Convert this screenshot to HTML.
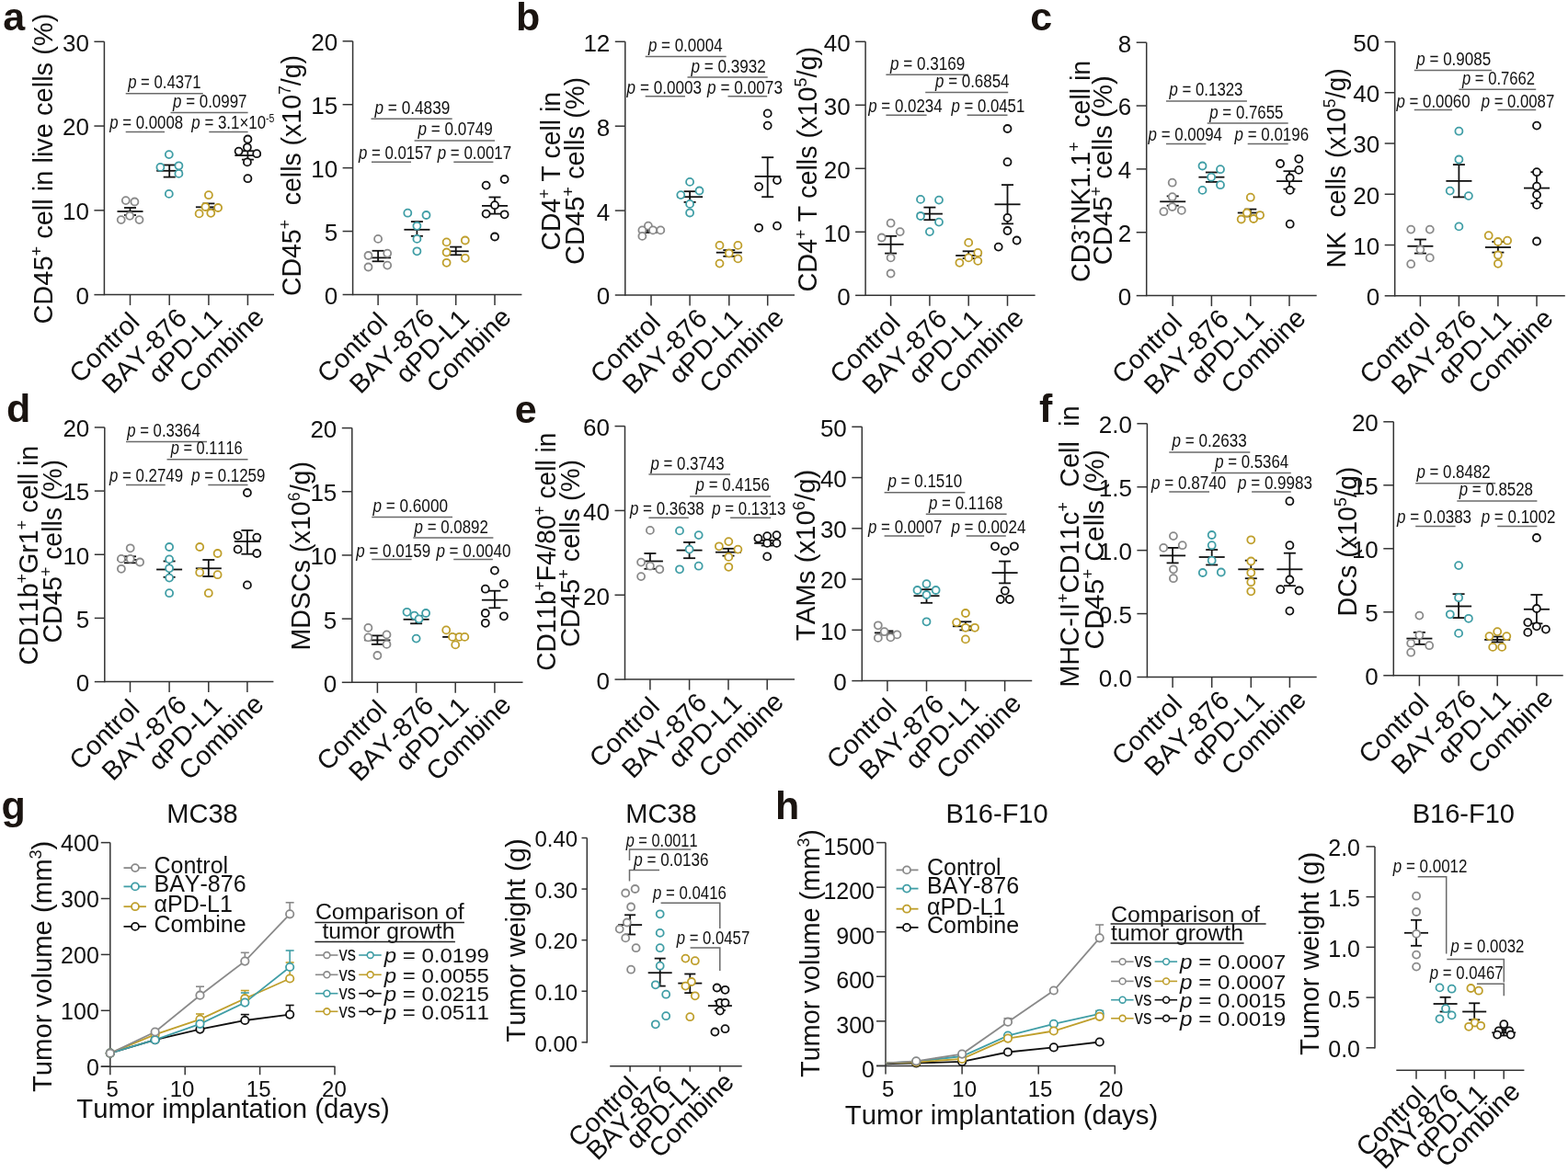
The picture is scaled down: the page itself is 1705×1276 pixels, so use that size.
<!DOCTYPE html>
<html><head><meta charset="utf-8"><title>Figure</title><style>html,body{margin:0;padding:0;background:#fff;overflow:hidden;width:1705px;height:1276px;}svg{display:block;font-kerning:none;}</style></head><body>
<svg width="1705" height="1276" viewBox="0 0 1705 1276" font-family="'Liberation Sans', Arial, sans-serif" fill="#111">
<rect width="1705" height="1276" fill="#fff"/>
<text x="3.3" y="33.2" font-size="43" font-weight="bold" fill="#1a1410">a</text>
<text x="561.0" y="33.1" font-size="43" font-weight="bold" fill="#1a1410">b</text>
<text x="1120.2" y="33.2" font-size="43" font-weight="bold" fill="#1a1410">c</text>
<text x="7.0" y="459.2" font-size="43" font-weight="bold" fill="#1a1410">d</text>
<text x="559.8" y="459.6" font-size="43" font-weight="bold" fill="#1a1410">e</text>
<text x="1130.1" y="458.7" font-size="43" font-weight="bold" fill="#1a1410">f</text>
<text x="1.5" y="890.9" font-size="43" font-weight="bold" fill="#1a1410">g</text>
<text x="843.0" y="890.8" font-size="43" font-weight="bold" fill="#1a1410">h</text>
<line x1="113.4" y1="45.3" x2="113.4" y2="321.35" stroke="#333" stroke-width="1.5"/>
<line x1="102.4" y1="45.3" x2="113.4" y2="45.3" stroke="#333" stroke-width="1.5"/>
<text x="96.9" y="55.7" font-size="26" text-anchor="end">30</text>
<line x1="102.4" y1="137.07" x2="113.4" y2="137.07" stroke="#333" stroke-width="1.5"/>
<text x="96.9" y="147.47" font-size="26" text-anchor="end">20</text>
<line x1="102.4" y1="228.83" x2="113.4" y2="228.83" stroke="#333" stroke-width="1.5"/>
<text x="96.9" y="239.23" font-size="26" text-anchor="end">10</text>
<line x1="102.4" y1="320.6" x2="113.4" y2="320.6" stroke="#333" stroke-width="1.5"/>
<text x="96.9" y="331" font-size="26" text-anchor="end">0</text>
<line x1="113.4" y1="320.6" x2="298" y2="320.6" stroke="#333" stroke-width="1.5"/>
<line x1="141.5" y1="320.6" x2="141.5" y2="332.1" stroke="#333" stroke-width="1.5"/>
<line x1="184.2" y1="320.6" x2="184.2" y2="332.1" stroke="#333" stroke-width="1.5"/>
<line x1="226.9" y1="320.6" x2="226.9" y2="332.1" stroke="#333" stroke-width="1.5"/>
<line x1="269.4" y1="320.6" x2="269.4" y2="332.1" stroke="#333" stroke-width="1.5"/>
<text x="120.3" y="385" font-size="29" text-anchor="middle" transform="rotate(-45 120.3 385)">Control</text>
<text x="163.8" y="388.7" font-size="29" text-anchor="middle" transform="rotate(-45 163.8 388.7)">BAY-876</text>
<text x="208.1" y="383.6" font-size="29" text-anchor="middle" transform="rotate(-45 208.1 383.6)">αPD-L1</text>
<text x="247.9" y="387.9" font-size="29" text-anchor="middle" transform="rotate(-45 247.9 387.9)">Combine</text>
<text x="56.7" y="352.6" font-size="29" textLength="337.9" lengthAdjust="spacingAndGlyphs" transform="rotate(-90 56.7 352.6)" xml:space="preserve">CD45<tspan dy="-11.0" font-size="18.0">+</tspan><tspan dy="11.0"> cell in live cells (%)</tspan></text>
<line x1="141.5" y1="226" x2="141.5" y2="234" stroke="#111111" stroke-width="1.8"/>
<line x1="135" y1="226" x2="148" y2="226" stroke="#111111" stroke-width="1.8"/>
<line x1="135" y1="234" x2="148" y2="234" stroke="#111111" stroke-width="1.8"/>
<line x1="127.5" y1="230" x2="155.5" y2="230" stroke="#111111" stroke-width="1.8"/>
<line x1="184.2" y1="179.5" x2="184.2" y2="192.6" stroke="#111111" stroke-width="1.8"/>
<line x1="177.7" y1="179.5" x2="190.7" y2="179.5" stroke="#111111" stroke-width="1.8"/>
<line x1="177.7" y1="192.6" x2="190.7" y2="192.6" stroke="#111111" stroke-width="1.8"/>
<line x1="170.2" y1="185.8" x2="198.2" y2="185.8" stroke="#111111" stroke-width="1.8"/>
<line x1="226.9" y1="221.4" x2="226.9" y2="227.5" stroke="#111111" stroke-width="1.8"/>
<line x1="220.4" y1="221.4" x2="233.4" y2="221.4" stroke="#111111" stroke-width="1.8"/>
<line x1="220.4" y1="227.5" x2="233.4" y2="227.5" stroke="#111111" stroke-width="1.8"/>
<line x1="212.9" y1="225.3" x2="240.9" y2="225.3" stroke="#111111" stroke-width="1.8"/>
<line x1="269.4" y1="164.2" x2="269.4" y2="173.6" stroke="#111111" stroke-width="1.8"/>
<line x1="262.9" y1="164.2" x2="275.9" y2="164.2" stroke="#111111" stroke-width="1.8"/>
<line x1="262.9" y1="173.6" x2="275.9" y2="173.6" stroke="#111111" stroke-width="1.8"/>
<line x1="255.4" y1="169.1" x2="283.4" y2="169.1" stroke="#111111" stroke-width="1.8"/>
<circle cx="136.8" cy="218.1" r="4.0" fill="#fff" stroke="#8a8a8a" stroke-width="1.8"/>
<circle cx="146.4" cy="219.5" r="4.0" fill="#fff" stroke="#8a8a8a" stroke-width="1.8"/>
<circle cx="141.1" cy="234.8" r="4.0" fill="#fff" stroke="#8a8a8a" stroke-width="1.8"/>
<circle cx="131.7" cy="239.1" r="4.0" fill="#fff" stroke="#8a8a8a" stroke-width="1.8"/>
<circle cx="151.5" cy="239.1" r="4.0" fill="#fff" stroke="#8a8a8a" stroke-width="1.8"/>
<circle cx="183.8" cy="168.1" r="4.0" fill="#fff" stroke="#409ea6" stroke-width="1.8"/>
<circle cx="174.4" cy="181.9" r="4.0" fill="#fff" stroke="#409ea6" stroke-width="1.8"/>
<circle cx="194.4" cy="180.3" r="4.0" fill="#fff" stroke="#409ea6" stroke-width="1.8"/>
<circle cx="194.4" cy="188.9" r="4.0" fill="#fff" stroke="#409ea6" stroke-width="1.8"/>
<circle cx="183.8" cy="210.9" r="4.0" fill="#fff" stroke="#409ea6" stroke-width="1.8"/>
<circle cx="226.9" cy="212.2" r="4.0" fill="#fff" stroke="#bf9f2c" stroke-width="1.8"/>
<circle cx="223.4" cy="225" r="4.0" fill="#fff" stroke="#bf9f2c" stroke-width="1.8"/>
<circle cx="237.1" cy="226" r="4.0" fill="#fff" stroke="#bf9f2c" stroke-width="1.8"/>
<circle cx="216.6" cy="232.4" r="4.0" fill="#fff" stroke="#bf9f2c" stroke-width="1.8"/>
<circle cx="229.3" cy="231.8" r="4.0" fill="#fff" stroke="#bf9f2c" stroke-width="1.8"/>
<circle cx="269.4" cy="151.5" r="4.0" fill="#fff" stroke="#111111" stroke-width="1.8"/>
<circle cx="259.6" cy="164.6" r="4.0" fill="#fff" stroke="#111111" stroke-width="1.8"/>
<circle cx="268.9" cy="160.3" r="4.0" fill="#fff" stroke="#111111" stroke-width="1.8"/>
<circle cx="279.2" cy="167.2" r="4.0" fill="#fff" stroke="#111111" stroke-width="1.8"/>
<circle cx="268.9" cy="176.4" r="4.0" fill="#fff" stroke="#111111" stroke-width="1.8"/>
<circle cx="269.4" cy="194.2" r="4.0" fill="#fff" stroke="#111111" stroke-width="1.8"/>
<line x1="136.7" y1="101.8" x2="220.8" y2="101.8" stroke="#6a6a6a" stroke-width="1.5"/>
<text x="139.2" y="96.3" font-size="19.5" textLength="79.3" lengthAdjust="spacingAndGlyphs"><tspan font-style="italic">p</tspan> = 0.4371</text>
<line x1="185.5" y1="122.4" x2="269.6" y2="122.4" stroke="#6a6a6a" stroke-width="1.5"/>
<text x="188.1" y="116.9" font-size="19.5" textLength="80.4" lengthAdjust="spacingAndGlyphs"><tspan font-style="italic">p</tspan> = 0.0997</text>
<line x1="136.7" y1="143.4" x2="179" y2="143.4" stroke="#6a6a6a" stroke-width="1.5"/>
<text x="119.3" y="140.3" font-size="19.5" textLength="79.8" lengthAdjust="spacingAndGlyphs"><tspan font-style="italic">p</tspan> = 0.0008</text>
<line x1="227.3" y1="143.4" x2="269.6" y2="143.4" stroke="#6a6a6a" stroke-width="1.5"/>
<text x="208.3" y="140.3" font-size="19.5" textLength="90.1" lengthAdjust="spacingAndGlyphs"><tspan font-style="italic">p</tspan> = 3.1×10<tspan dy="-7.4" font-size="12.1">-5</tspan><tspan dy="7.4"></tspan></text>
<line x1="383.6" y1="44.8" x2="383.6" y2="321.25" stroke="#333" stroke-width="1.5"/>
<line x1="372.6" y1="44.8" x2="383.6" y2="44.8" stroke="#333" stroke-width="1.5"/>
<text x="367.1" y="55.2" font-size="26" text-anchor="end">20</text>
<line x1="372.6" y1="113.72" x2="383.6" y2="113.72" stroke="#333" stroke-width="1.5"/>
<text x="367.1" y="124.12" font-size="26" text-anchor="end">15</text>
<line x1="372.6" y1="182.65" x2="383.6" y2="182.65" stroke="#333" stroke-width="1.5"/>
<text x="367.1" y="193.05" font-size="26" text-anchor="end">10</text>
<line x1="372.6" y1="251.57" x2="383.6" y2="251.57" stroke="#333" stroke-width="1.5"/>
<text x="367.1" y="261.97" font-size="26" text-anchor="end">5</text>
<line x1="372.6" y1="320.5" x2="383.6" y2="320.5" stroke="#333" stroke-width="1.5"/>
<text x="367.1" y="330.9" font-size="26" text-anchor="end">0</text>
<line x1="383.6" y1="320.5" x2="567.4" y2="320.5" stroke="#333" stroke-width="1.5"/>
<line x1="411.1" y1="320.5" x2="411.1" y2="332" stroke="#333" stroke-width="1.5"/>
<line x1="453.4" y1="320.5" x2="453.4" y2="332" stroke="#333" stroke-width="1.5"/>
<line x1="495.7" y1="320.5" x2="495.7" y2="332" stroke="#333" stroke-width="1.5"/>
<line x1="538" y1="320.5" x2="538" y2="332" stroke="#333" stroke-width="1.5"/>
<text x="389.9" y="384.9" font-size="29" text-anchor="middle" transform="rotate(-45 389.9 384.9)">Control</text>
<text x="433" y="388.6" font-size="29" text-anchor="middle" transform="rotate(-45 433 388.6)">BAY-876</text>
<text x="476.9" y="383.5" font-size="29" text-anchor="middle" transform="rotate(-45 476.9 383.5)">αPD-L1</text>
<text x="516.5" y="387.8" font-size="29" text-anchor="middle" transform="rotate(-45 516.5 387.8)">Combine</text>
<text x="327.1" y="322.1" font-size="29" textLength="262.1" lengthAdjust="spacingAndGlyphs" transform="rotate(-90 327.1 322.1)" xml:space="preserve">CD45<tspan dy="-11.0" font-size="18.0">+</tspan><tspan dy="11.0">  cells (x10<tspan dy="-11.0" font-size="18.0">7</tspan><tspan dy="11.0">/g)</tspan></tspan></text>
<line x1="411.1" y1="272.8" x2="411.1" y2="284.3" stroke="#111111" stroke-width="1.8"/>
<line x1="404.6" y1="272.8" x2="417.6" y2="272.8" stroke="#111111" stroke-width="1.8"/>
<line x1="404.6" y1="284.3" x2="417.6" y2="284.3" stroke="#111111" stroke-width="1.8"/>
<line x1="397.1" y1="280.4" x2="425.1" y2="280.4" stroke="#111111" stroke-width="1.8"/>
<line x1="453.4" y1="241.1" x2="453.4" y2="256.8" stroke="#111111" stroke-width="1.8"/>
<line x1="446.9" y1="241.1" x2="459.9" y2="241.1" stroke="#111111" stroke-width="1.8"/>
<line x1="446.9" y1="256.8" x2="459.9" y2="256.8" stroke="#111111" stroke-width="1.8"/>
<line x1="439.4" y1="249.8" x2="467.4" y2="249.8" stroke="#111111" stroke-width="1.8"/>
<line x1="495.7" y1="268.6" x2="495.7" y2="277.3" stroke="#111111" stroke-width="1.8"/>
<line x1="489.2" y1="268.6" x2="502.2" y2="268.6" stroke="#111111" stroke-width="1.8"/>
<line x1="489.2" y1="277.3" x2="502.2" y2="277.3" stroke="#111111" stroke-width="1.8"/>
<line x1="481.7" y1="273.3" x2="509.7" y2="273.3" stroke="#111111" stroke-width="1.8"/>
<line x1="538" y1="214.5" x2="538" y2="232.6" stroke="#111111" stroke-width="1.8"/>
<line x1="531.5" y1="214.5" x2="544.5" y2="214.5" stroke="#111111" stroke-width="1.8"/>
<line x1="531.5" y1="232.6" x2="544.5" y2="232.6" stroke="#111111" stroke-width="1.8"/>
<line x1="524" y1="223.9" x2="552" y2="223.9" stroke="#111111" stroke-width="1.8"/>
<circle cx="411.1" cy="259.9" r="4.0" fill="#fff" stroke="#8a8a8a" stroke-width="1.8"/>
<circle cx="400.5" cy="278" r="4.0" fill="#fff" stroke="#8a8a8a" stroke-width="1.8"/>
<circle cx="421.2" cy="275.6" r="4.0" fill="#fff" stroke="#8a8a8a" stroke-width="1.8"/>
<circle cx="400.5" cy="290.5" r="4.0" fill="#fff" stroke="#8a8a8a" stroke-width="1.8"/>
<circle cx="421.2" cy="288.6" r="4.0" fill="#fff" stroke="#8a8a8a" stroke-width="1.8"/>
<circle cx="443.3" cy="231.7" r="4.0" fill="#fff" stroke="#409ea6" stroke-width="1.8"/>
<circle cx="463.5" cy="234" r="4.0" fill="#fff" stroke="#409ea6" stroke-width="1.8"/>
<circle cx="453.4" cy="245.8" r="4.0" fill="#fff" stroke="#409ea6" stroke-width="1.8"/>
<circle cx="453.4" cy="259.9" r="4.0" fill="#fff" stroke="#409ea6" stroke-width="1.8"/>
<circle cx="453.4" cy="273.3" r="4.0" fill="#fff" stroke="#409ea6" stroke-width="1.8"/>
<circle cx="485.6" cy="263.4" r="4.0" fill="#fff" stroke="#bf9f2c" stroke-width="1.8"/>
<circle cx="505.8" cy="261.5" r="4.0" fill="#fff" stroke="#bf9f2c" stroke-width="1.8"/>
<circle cx="485.6" cy="274.5" r="4.0" fill="#fff" stroke="#bf9f2c" stroke-width="1.8"/>
<circle cx="505.8" cy="280.8" r="4.0" fill="#fff" stroke="#bf9f2c" stroke-width="1.8"/>
<circle cx="485.6" cy="285.8" r="4.0" fill="#fff" stroke="#bf9f2c" stroke-width="1.8"/>
<circle cx="528.6" cy="201.6" r="4.0" fill="#fff" stroke="#111111" stroke-width="1.8"/>
<circle cx="548.6" cy="195" r="4.0" fill="#fff" stroke="#111111" stroke-width="1.8"/>
<circle cx="538" cy="223.2" r="4.0" fill="#fff" stroke="#111111" stroke-width="1.8"/>
<circle cx="528.6" cy="232.6" r="4.0" fill="#fff" stroke="#111111" stroke-width="1.8"/>
<circle cx="548.6" cy="233.3" r="4.0" fill="#fff" stroke="#111111" stroke-width="1.8"/>
<circle cx="538" cy="257.5" r="4.0" fill="#fff" stroke="#111111" stroke-width="1.8"/>
<line x1="403.5" y1="129.2" x2="491.7" y2="129.2" stroke="#6a6a6a" stroke-width="1.5"/>
<text x="407.5" y="123.7" font-size="19.5" textLength="81.8" lengthAdjust="spacingAndGlyphs"><tspan font-style="italic">p</tspan> = 0.4839</text>
<line x1="450.6" y1="152.9" x2="538" y2="152.9" stroke="#6a6a6a" stroke-width="1.5"/>
<text x="454.5" y="147.4" font-size="19.5" textLength="81.2" lengthAdjust="spacingAndGlyphs"><tspan font-style="italic">p</tspan> = 0.0749</text>
<line x1="404" y1="176.2" x2="447" y2="176.2" stroke="#6a6a6a" stroke-width="1.5"/>
<text x="389.9" y="173.1" font-size="19.5" textLength="79.9" lengthAdjust="spacingAndGlyphs"><tspan font-style="italic">p</tspan> = 0.0157</text>
<line x1="493.3" y1="176.2" x2="536.4" y2="176.2" stroke="#6a6a6a" stroke-width="1.5"/>
<text x="475.7" y="173.1" font-size="19.5" textLength="80.4" lengthAdjust="spacingAndGlyphs"><tspan font-style="italic">p</tspan> = 0.0017</text>
<line x1="679.8" y1="45.3" x2="679.8" y2="321.75" stroke="#333" stroke-width="1.5"/>
<line x1="668.8" y1="45.3" x2="679.8" y2="45.3" stroke="#333" stroke-width="1.5"/>
<text x="663.3" y="55.7" font-size="26" text-anchor="end">12</text>
<line x1="668.8" y1="137.2" x2="679.8" y2="137.2" stroke="#333" stroke-width="1.5"/>
<text x="663.3" y="147.6" font-size="26" text-anchor="end">8</text>
<line x1="668.8" y1="229.1" x2="679.8" y2="229.1" stroke="#333" stroke-width="1.5"/>
<text x="663.3" y="239.5" font-size="26" text-anchor="end">4</text>
<line x1="668.8" y1="321" x2="679.8" y2="321" stroke="#333" stroke-width="1.5"/>
<text x="663.3" y="331.4" font-size="26" text-anchor="end">0</text>
<line x1="679.8" y1="321" x2="864" y2="321" stroke="#333" stroke-width="1.5"/>
<line x1="708" y1="321" x2="708" y2="332.5" stroke="#333" stroke-width="1.5"/>
<line x1="750.1" y1="321" x2="750.1" y2="332.5" stroke="#333" stroke-width="1.5"/>
<line x1="792.8" y1="321" x2="792.8" y2="332.5" stroke="#333" stroke-width="1.5"/>
<line x1="834.7" y1="321" x2="834.7" y2="332.5" stroke="#333" stroke-width="1.5"/>
<text x="686.8" y="385.4" font-size="29" text-anchor="middle" transform="rotate(-45 686.8 385.4)">Control</text>
<text x="729.7" y="389.1" font-size="29" text-anchor="middle" transform="rotate(-45 729.7 389.1)">BAY-876</text>
<text x="774" y="384" font-size="29" text-anchor="middle" transform="rotate(-45 774 384)">αPD-L1</text>
<text x="813.2" y="388.3" font-size="29" text-anchor="middle" transform="rotate(-45 813.2 388.3)">Combine</text>
<text x="609.5" y="272.6" font-size="29" textLength="172.6" lengthAdjust="spacingAndGlyphs" transform="rotate(-90 609.5 272.6)" xml:space="preserve">CD4<tspan dy="-11.0" font-size="18.0">+</tspan><tspan dy="11.0"> T cell in</tspan></text>
<text x="634.8" y="287.9" font-size="29" textLength="204.2" lengthAdjust="spacingAndGlyphs" transform="rotate(-90 634.8 287.9)" xml:space="preserve">CD45<tspan dy="-11.0" font-size="18.0">+</tspan><tspan dy="11.0"> cells (%)</tspan></text>
<line x1="708" y1="248.5" x2="708" y2="253" stroke="#111111" stroke-width="1.8"/>
<line x1="701.5" y1="248.5" x2="714.5" y2="248.5" stroke="#111111" stroke-width="1.8"/>
<line x1="701.5" y1="253" x2="714.5" y2="253" stroke="#111111" stroke-width="1.8"/>
<line x1="694" y1="250.9" x2="722" y2="250.9" stroke="#111111" stroke-width="1.8"/>
<line x1="750.1" y1="208.2" x2="750.1" y2="219.9" stroke="#111111" stroke-width="1.8"/>
<line x1="743.6" y1="208.2" x2="756.6" y2="208.2" stroke="#111111" stroke-width="1.8"/>
<line x1="743.6" y1="219.9" x2="756.6" y2="219.9" stroke="#111111" stroke-width="1.8"/>
<line x1="736.1" y1="214.2" x2="764.1" y2="214.2" stroke="#111111" stroke-width="1.8"/>
<line x1="792.8" y1="272.1" x2="792.8" y2="278.8" stroke="#111111" stroke-width="1.8"/>
<line x1="786.3" y1="272.1" x2="799.3" y2="272.1" stroke="#111111" stroke-width="1.8"/>
<line x1="786.3" y1="278.8" x2="799.3" y2="278.8" stroke="#111111" stroke-width="1.8"/>
<line x1="778.8" y1="274.7" x2="806.8" y2="274.7" stroke="#111111" stroke-width="1.8"/>
<line x1="834.7" y1="171.2" x2="834.7" y2="214.2" stroke="#111111" stroke-width="1.8"/>
<line x1="828.2" y1="171.2" x2="841.2" y2="171.2" stroke="#111111" stroke-width="1.8"/>
<line x1="828.2" y1="214.2" x2="841.2" y2="214.2" stroke="#111111" stroke-width="1.8"/>
<line x1="820.7" y1="191.9" x2="848.7" y2="191.9" stroke="#111111" stroke-width="1.8"/>
<circle cx="698.4" cy="250.4" r="4.0" fill="#fff" stroke="#8a8a8a" stroke-width="1.8"/>
<circle cx="704.9" cy="245.7" r="4.0" fill="#fff" stroke="#8a8a8a" stroke-width="1.8"/>
<circle cx="710" cy="250.4" r="4.0" fill="#fff" stroke="#8a8a8a" stroke-width="1.8"/>
<circle cx="718.3" cy="250.4" r="4.0" fill="#fff" stroke="#8a8a8a" stroke-width="1.8"/>
<circle cx="698.4" cy="256.9" r="4.0" fill="#fff" stroke="#8a8a8a" stroke-width="1.8"/>
<circle cx="750.1" cy="197.9" r="4.0" fill="#fff" stroke="#409ea6" stroke-width="1.8"/>
<circle cx="740.3" cy="212.1" r="4.0" fill="#fff" stroke="#409ea6" stroke-width="1.8"/>
<circle cx="760.5" cy="207.5" r="4.0" fill="#fff" stroke="#409ea6" stroke-width="1.8"/>
<circle cx="750.1" cy="221.9" r="4.0" fill="#fff" stroke="#409ea6" stroke-width="1.8"/>
<circle cx="750.1" cy="231.5" r="4.0" fill="#fff" stroke="#409ea6" stroke-width="1.8"/>
<circle cx="782.5" cy="266.9" r="4.0" fill="#fff" stroke="#bf9f2c" stroke-width="1.8"/>
<circle cx="802.4" cy="266.9" r="4.0" fill="#fff" stroke="#bf9f2c" stroke-width="1.8"/>
<circle cx="792.8" cy="275.5" r="4.0" fill="#fff" stroke="#bf9f2c" stroke-width="1.8"/>
<circle cx="782.5" cy="286.6" r="4.0" fill="#fff" stroke="#bf9f2c" stroke-width="1.8"/>
<circle cx="802.4" cy="281.4" r="4.0" fill="#fff" stroke="#bf9f2c" stroke-width="1.8"/>
<circle cx="834.7" cy="123.4" r="4.0" fill="#fff" stroke="#111111" stroke-width="1.8"/>
<circle cx="834.7" cy="136.6" r="4.0" fill="#fff" stroke="#111111" stroke-width="1.8"/>
<circle cx="825.1" cy="203.1" r="4.0" fill="#fff" stroke="#111111" stroke-width="1.8"/>
<circle cx="845" cy="196.1" r="4.0" fill="#fff" stroke="#111111" stroke-width="1.8"/>
<circle cx="825.1" cy="247.8" r="4.0" fill="#fff" stroke="#111111" stroke-width="1.8"/>
<circle cx="845" cy="245.7" r="4.0" fill="#fff" stroke="#111111" stroke-width="1.8"/>
<line x1="701.7" y1="61.6" x2="789.7" y2="61.6" stroke="#6a6a6a" stroke-width="1.5"/>
<text x="704.9" y="56.1" font-size="19.5" textLength="80.7" lengthAdjust="spacingAndGlyphs"><tspan font-style="italic">p</tspan> = 0.0004</text>
<line x1="747.5" y1="84.1" x2="834.7" y2="84.1" stroke="#6a6a6a" stroke-width="1.5"/>
<text x="751.5" y="78.6" font-size="19.5" textLength="81.4" lengthAdjust="spacingAndGlyphs"><tspan font-style="italic">p</tspan> = 0.3932</text>
<line x1="701.7" y1="104.8" x2="745" y2="104.8" stroke="#6a6a6a" stroke-width="1.5"/>
<text x="681.6" y="101.7" font-size="19.5" textLength="81.4" lengthAdjust="spacingAndGlyphs"><tspan font-style="italic">p</tspan> = 0.0003</text>
<line x1="791.5" y1="104.8" x2="834.2" y2="104.8" stroke="#6a6a6a" stroke-width="1.5"/>
<text x="769" y="101.7" font-size="19.5" textLength="82" lengthAdjust="spacingAndGlyphs"><tspan font-style="italic">p</tspan> = 0.0073</text>
<line x1="941.1" y1="45.3" x2="941.1" y2="322.05" stroke="#333" stroke-width="1.5"/>
<line x1="930.1" y1="45.3" x2="941.1" y2="45.3" stroke="#333" stroke-width="1.5"/>
<text x="924.6" y="55.7" font-size="26" text-anchor="end">40</text>
<line x1="930.1" y1="114.3" x2="941.1" y2="114.3" stroke="#333" stroke-width="1.5"/>
<text x="924.6" y="124.7" font-size="26" text-anchor="end">30</text>
<line x1="930.1" y1="183.3" x2="941.1" y2="183.3" stroke="#333" stroke-width="1.5"/>
<text x="924.6" y="193.7" font-size="26" text-anchor="end">20</text>
<line x1="930.1" y1="252.3" x2="941.1" y2="252.3" stroke="#333" stroke-width="1.5"/>
<text x="924.6" y="262.7" font-size="26" text-anchor="end">10</text>
<line x1="930.1" y1="321.3" x2="941.1" y2="321.3" stroke="#333" stroke-width="1.5"/>
<text x="924.6" y="331.7" font-size="26" text-anchor="end">0</text>
<line x1="941.1" y1="321.3" x2="1125.6" y2="321.3" stroke="#333" stroke-width="1.5"/>
<line x1="968.6" y1="321.3" x2="968.6" y2="332.8" stroke="#333" stroke-width="1.5"/>
<line x1="1010.9" y1="321.3" x2="1010.9" y2="332.8" stroke="#333" stroke-width="1.5"/>
<line x1="1053.2" y1="321.3" x2="1053.2" y2="332.8" stroke="#333" stroke-width="1.5"/>
<line x1="1095.5" y1="321.3" x2="1095.5" y2="332.8" stroke="#333" stroke-width="1.5"/>
<text x="947.4" y="385.7" font-size="29" text-anchor="middle" transform="rotate(-45 947.4 385.7)">Control</text>
<text x="990.5" y="389.4" font-size="29" text-anchor="middle" transform="rotate(-45 990.5 389.4)">BAY-876</text>
<text x="1034.4" y="384.3" font-size="29" text-anchor="middle" transform="rotate(-45 1034.4 384.3)">αPD-L1</text>
<text x="1074" y="388.6" font-size="29" text-anchor="middle" transform="rotate(-45 1074 388.6)">Combine</text>
<text x="888.2" y="317.5" font-size="29" textLength="266.6" lengthAdjust="spacingAndGlyphs" transform="rotate(-90 888.2 317.5)" xml:space="preserve">CD4<tspan dy="-11.0" font-size="18.0">+</tspan><tspan dy="11.0"> T cells (x10<tspan dy="-11.0" font-size="18.0">5</tspan><tspan dy="11.0">/g)</tspan></tspan></text>
<line x1="968.6" y1="256.8" x2="968.6" y2="275.6" stroke="#111111" stroke-width="1.8"/>
<line x1="962.1" y1="256.8" x2="975.1" y2="256.8" stroke="#111111" stroke-width="1.8"/>
<line x1="962.1" y1="275.6" x2="975.1" y2="275.6" stroke="#111111" stroke-width="1.8"/>
<line x1="954.6" y1="265.8" x2="982.6" y2="265.8" stroke="#111111" stroke-width="1.8"/>
<line x1="1010.9" y1="225.6" x2="1010.9" y2="239.2" stroke="#111111" stroke-width="1.8"/>
<line x1="1004.4" y1="225.6" x2="1017.4" y2="225.6" stroke="#111111" stroke-width="1.8"/>
<line x1="1004.4" y1="239.2" x2="1017.4" y2="239.2" stroke="#111111" stroke-width="1.8"/>
<line x1="996.9" y1="232.6" x2="1024.9" y2="232.6" stroke="#111111" stroke-width="1.8"/>
<line x1="1053.2" y1="273.3" x2="1053.2" y2="281" stroke="#111111" stroke-width="1.8"/>
<line x1="1046.7" y1="273.3" x2="1059.7" y2="273.3" stroke="#111111" stroke-width="1.8"/>
<line x1="1046.7" y1="281" x2="1059.7" y2="281" stroke="#111111" stroke-width="1.8"/>
<line x1="1039.2" y1="278" x2="1067.2" y2="278" stroke="#111111" stroke-width="1.8"/>
<line x1="1095.5" y1="201.1" x2="1095.5" y2="243.4" stroke="#111111" stroke-width="1.8"/>
<line x1="1089" y1="201.1" x2="1102" y2="201.1" stroke="#111111" stroke-width="1.8"/>
<line x1="1089" y1="243.4" x2="1102" y2="243.4" stroke="#111111" stroke-width="1.8"/>
<line x1="1081.5" y1="222.3" x2="1109.5" y2="222.3" stroke="#111111" stroke-width="1.8"/>
<circle cx="968.6" cy="242.7" r="4.0" fill="#fff" stroke="#8a8a8a" stroke-width="1.8"/>
<circle cx="958.7" cy="258.5" r="4.0" fill="#fff" stroke="#8a8a8a" stroke-width="1.8"/>
<circle cx="978.7" cy="252.1" r="4.0" fill="#fff" stroke="#8a8a8a" stroke-width="1.8"/>
<circle cx="968.6" cy="280.4" r="4.0" fill="#fff" stroke="#8a8a8a" stroke-width="1.8"/>
<circle cx="968.6" cy="297.5" r="4.0" fill="#fff" stroke="#8a8a8a" stroke-width="1.8"/>
<circle cx="1001" cy="216.9" r="4.0" fill="#fff" stroke="#409ea6" stroke-width="1.8"/>
<circle cx="1021" cy="217.6" r="4.0" fill="#fff" stroke="#409ea6" stroke-width="1.8"/>
<circle cx="1001" cy="235" r="4.0" fill="#fff" stroke="#409ea6" stroke-width="1.8"/>
<circle cx="1021" cy="241.6" r="4.0" fill="#fff" stroke="#409ea6" stroke-width="1.8"/>
<circle cx="1010.9" cy="252.1" r="4.0" fill="#fff" stroke="#409ea6" stroke-width="1.8"/>
<circle cx="1053.2" cy="263.9" r="4.0" fill="#fff" stroke="#bf9f2c" stroke-width="1.8"/>
<circle cx="1063.3" cy="274.9" r="4.0" fill="#fff" stroke="#bf9f2c" stroke-width="1.8"/>
<circle cx="1053.2" cy="280.4" r="4.0" fill="#fff" stroke="#bf9f2c" stroke-width="1.8"/>
<circle cx="1043.4" cy="285.8" r="4.0" fill="#fff" stroke="#bf9f2c" stroke-width="1.8"/>
<circle cx="1063.3" cy="283.9" r="4.0" fill="#fff" stroke="#bf9f2c" stroke-width="1.8"/>
<circle cx="1095.5" cy="140" r="4.0" fill="#fff" stroke="#111111" stroke-width="1.8"/>
<circle cx="1095.5" cy="176.2" r="4.0" fill="#fff" stroke="#111111" stroke-width="1.8"/>
<circle cx="1095.5" cy="236.9" r="4.0" fill="#fff" stroke="#111111" stroke-width="1.8"/>
<circle cx="1095.5" cy="251" r="4.0" fill="#fff" stroke="#111111" stroke-width="1.8"/>
<circle cx="1085.7" cy="268.6" r="4.0" fill="#fff" stroke="#111111" stroke-width="1.8"/>
<circle cx="1105.6" cy="261.5" r="4.0" fill="#fff" stroke="#111111" stroke-width="1.8"/>
<line x1="963.4" y1="81.2" x2="1052.8" y2="81.2" stroke="#6a6a6a" stroke-width="1.5"/>
<text x="968" y="75.7" font-size="19.5" textLength="81.3" lengthAdjust="spacingAndGlyphs"><tspan font-style="italic">p</tspan> = 0.3169</text>
<line x1="1006.2" y1="100.5" x2="1096.2" y2="100.5" stroke="#6a6a6a" stroke-width="1.5"/>
<text x="1017" y="95" font-size="19.5" textLength="80.5" lengthAdjust="spacingAndGlyphs"><tspan font-style="italic">p</tspan> = 0.6854</text>
<line x1="963.4" y1="125.2" x2="1007.6" y2="125.2" stroke="#6a6a6a" stroke-width="1.5"/>
<text x="944.2" y="122.1" font-size="19.5" textLength="80.4" lengthAdjust="spacingAndGlyphs"><tspan font-style="italic">p</tspan> = 0.0234</text>
<line x1="1051.6" y1="125.2" x2="1095.5" y2="125.2" stroke="#6a6a6a" stroke-width="1.5"/>
<text x="1034.4" y="122.1" font-size="19.5" textLength="79.9" lengthAdjust="spacingAndGlyphs"><tspan font-style="italic">p</tspan> = 0.0451</text>
<line x1="1246.7" y1="46.2" x2="1246.7" y2="322.35" stroke="#333" stroke-width="1.5"/>
<line x1="1235.7" y1="46.2" x2="1246.7" y2="46.2" stroke="#333" stroke-width="1.5"/>
<text x="1230.2" y="56.6" font-size="26" text-anchor="end">8</text>
<line x1="1235.7" y1="115.05" x2="1246.7" y2="115.05" stroke="#333" stroke-width="1.5"/>
<text x="1230.2" y="125.45" font-size="26" text-anchor="end">6</text>
<line x1="1235.7" y1="183.9" x2="1246.7" y2="183.9" stroke="#333" stroke-width="1.5"/>
<text x="1230.2" y="194.3" font-size="26" text-anchor="end">4</text>
<line x1="1235.7" y1="252.75" x2="1246.7" y2="252.75" stroke="#333" stroke-width="1.5"/>
<text x="1230.2" y="263.15" font-size="26" text-anchor="end">2</text>
<line x1="1235.7" y1="321.6" x2="1246.7" y2="321.6" stroke="#333" stroke-width="1.5"/>
<text x="1230.2" y="332" font-size="26" text-anchor="end">0</text>
<line x1="1246.7" y1="321.6" x2="1431.7" y2="321.6" stroke="#333" stroke-width="1.5"/>
<line x1="1275.2" y1="321.6" x2="1275.2" y2="333.1" stroke="#333" stroke-width="1.5"/>
<line x1="1317.4" y1="321.6" x2="1317.4" y2="333.1" stroke="#333" stroke-width="1.5"/>
<line x1="1359.8" y1="321.6" x2="1359.8" y2="333.1" stroke="#333" stroke-width="1.5"/>
<line x1="1402" y1="321.6" x2="1402" y2="333.1" stroke="#333" stroke-width="1.5"/>
<text x="1254" y="386" font-size="29" text-anchor="middle" transform="rotate(-45 1254 386)">Control</text>
<text x="1297" y="389.7" font-size="29" text-anchor="middle" transform="rotate(-45 1297 389.7)">BAY-876</text>
<text x="1341" y="384.6" font-size="29" text-anchor="middle" transform="rotate(-45 1341 384.6)">αPD-L1</text>
<text x="1380.5" y="388.9" font-size="29" text-anchor="middle" transform="rotate(-45 1380.5 388.9)">Combine</text>
<text x="1184.6" y="306.9" font-size="29" textLength="241.1" lengthAdjust="spacingAndGlyphs" transform="rotate(-90 1184.6 306.9)" xml:space="preserve">CD3<tspan dy="-11.0" font-size="18.0">-</tspan><tspan dy="11.0">NK1.1<tspan dy="-11.0" font-size="18.0">+</tspan><tspan dy="11.0">  cell in</tspan></tspan></text>
<text x="1208.7" y="288.3" font-size="29" textLength="206" lengthAdjust="spacingAndGlyphs" transform="rotate(-90 1208.7 288.3)" xml:space="preserve">CD45<tspan dy="-11.0" font-size="18.0">+</tspan><tspan dy="11.0"> cells (%)</tspan></text>
<line x1="1275.2" y1="213.4" x2="1275.2" y2="223.7" stroke="#111111" stroke-width="1.8"/>
<line x1="1268.7" y1="213.4" x2="1281.7" y2="213.4" stroke="#111111" stroke-width="1.8"/>
<line x1="1268.7" y1="223.7" x2="1281.7" y2="223.7" stroke="#111111" stroke-width="1.8"/>
<line x1="1261.2" y1="219.3" x2="1289.2" y2="219.3" stroke="#111111" stroke-width="1.8"/>
<line x1="1317.4" y1="187.5" x2="1317.4" y2="197.9" stroke="#111111" stroke-width="1.8"/>
<line x1="1310.9" y1="187.5" x2="1323.9" y2="187.5" stroke="#111111" stroke-width="1.8"/>
<line x1="1310.9" y1="197.9" x2="1323.9" y2="197.9" stroke="#111111" stroke-width="1.8"/>
<line x1="1303.4" y1="192.7" x2="1331.4" y2="192.7" stroke="#111111" stroke-width="1.8"/>
<line x1="1359.8" y1="227.6" x2="1359.8" y2="235.4" stroke="#111111" stroke-width="1.8"/>
<line x1="1353.3" y1="227.6" x2="1366.3" y2="227.6" stroke="#111111" stroke-width="1.8"/>
<line x1="1353.3" y1="235.4" x2="1366.3" y2="235.4" stroke="#111111" stroke-width="1.8"/>
<line x1="1345.8" y1="231.5" x2="1373.8" y2="231.5" stroke="#111111" stroke-width="1.8"/>
<line x1="1402" y1="186.2" x2="1402" y2="205.6" stroke="#111111" stroke-width="1.8"/>
<line x1="1395.5" y1="186.2" x2="1408.5" y2="186.2" stroke="#111111" stroke-width="1.8"/>
<line x1="1395.5" y1="205.6" x2="1408.5" y2="205.6" stroke="#111111" stroke-width="1.8"/>
<line x1="1388" y1="197.1" x2="1416" y2="197.1" stroke="#111111" stroke-width="1.8"/>
<circle cx="1274.7" cy="198.7" r="4.0" fill="#fff" stroke="#8a8a8a" stroke-width="1.8"/>
<circle cx="1274.7" cy="214.2" r="4.0" fill="#fff" stroke="#8a8a8a" stroke-width="1.8"/>
<circle cx="1265.4" cy="230.2" r="4.0" fill="#fff" stroke="#8a8a8a" stroke-width="1.8"/>
<circle cx="1274.7" cy="225" r="4.0" fill="#fff" stroke="#8a8a8a" stroke-width="1.8"/>
<circle cx="1284.8" cy="228.9" r="4.0" fill="#fff" stroke="#8a8a8a" stroke-width="1.8"/>
<circle cx="1307.5" cy="180.5" r="4.0" fill="#fff" stroke="#409ea6" stroke-width="1.8"/>
<circle cx="1327" cy="184.2" r="4.0" fill="#fff" stroke="#409ea6" stroke-width="1.8"/>
<circle cx="1317.1" cy="192.7" r="4.0" fill="#fff" stroke="#409ea6" stroke-width="1.8"/>
<circle cx="1307.5" cy="206.9" r="4.0" fill="#fff" stroke="#409ea6" stroke-width="1.8"/>
<circle cx="1327" cy="201.2" r="4.0" fill="#fff" stroke="#409ea6" stroke-width="1.8"/>
<circle cx="1359.8" cy="214.7" r="4.0" fill="#fff" stroke="#bf9f2c" stroke-width="1.8"/>
<circle cx="1349.7" cy="238.5" r="4.0" fill="#fff" stroke="#bf9f2c" stroke-width="1.8"/>
<circle cx="1355.9" cy="231.5" r="4.0" fill="#fff" stroke="#bf9f2c" stroke-width="1.8"/>
<circle cx="1363.1" cy="238" r="4.0" fill="#fff" stroke="#bf9f2c" stroke-width="1.8"/>
<circle cx="1370.1" cy="234.1" r="4.0" fill="#fff" stroke="#bf9f2c" stroke-width="1.8"/>
<circle cx="1392.1" cy="178" r="4.0" fill="#fff" stroke="#111111" stroke-width="1.8"/>
<circle cx="1412.3" cy="172.8" r="4.0" fill="#fff" stroke="#111111" stroke-width="1.8"/>
<circle cx="1412.3" cy="184.9" r="4.0" fill="#fff" stroke="#111111" stroke-width="1.8"/>
<circle cx="1402.7" cy="193.5" r="4.0" fill="#fff" stroke="#111111" stroke-width="1.8"/>
<circle cx="1402.7" cy="206.9" r="4.0" fill="#fff" stroke="#111111" stroke-width="1.8"/>
<circle cx="1402.7" cy="243.7" r="4.0" fill="#fff" stroke="#111111" stroke-width="1.8"/>
<line x1="1268" y1="109.9" x2="1355.9" y2="109.9" stroke="#6a6a6a" stroke-width="1.5"/>
<text x="1271.4" y="104.4" font-size="19.5" textLength="80.1" lengthAdjust="spacingAndGlyphs"><tspan font-style="italic">p</tspan> = 0.1323</text>
<line x1="1312.7" y1="134" x2="1400.7" y2="134" stroke="#6a6a6a" stroke-width="1.5"/>
<text x="1315.3" y="128.5" font-size="19.5" textLength="80.2" lengthAdjust="spacingAndGlyphs"><tspan font-style="italic">p</tspan> = 0.7655</text>
<line x1="1268" y1="156.5" x2="1311.4" y2="156.5" stroke="#6a6a6a" stroke-width="1.5"/>
<text x="1248.6" y="153.4" font-size="19.5" textLength="80.4" lengthAdjust="spacingAndGlyphs"><tspan font-style="italic">p</tspan> = 0.0094</text>
<line x1="1356.7" y1="156.5" x2="1400.7" y2="156.5" stroke="#6a6a6a" stroke-width="1.5"/>
<text x="1342.5" y="153.4" font-size="19.5" textLength="80.7" lengthAdjust="spacingAndGlyphs"><tspan font-style="italic">p</tspan> = 0.0196</text>
<line x1="1516.7" y1="45.5" x2="1516.7" y2="322.55" stroke="#333" stroke-width="1.5"/>
<line x1="1505.7" y1="45.5" x2="1516.7" y2="45.5" stroke="#333" stroke-width="1.5"/>
<text x="1500.2" y="55.9" font-size="26" text-anchor="end">50</text>
<line x1="1505.7" y1="100.76" x2="1516.7" y2="100.76" stroke="#333" stroke-width="1.5"/>
<text x="1500.2" y="111.16" font-size="26" text-anchor="end">40</text>
<line x1="1505.7" y1="156.02" x2="1516.7" y2="156.02" stroke="#333" stroke-width="1.5"/>
<text x="1500.2" y="166.42" font-size="26" text-anchor="end">30</text>
<line x1="1505.7" y1="211.28" x2="1516.7" y2="211.28" stroke="#333" stroke-width="1.5"/>
<text x="1500.2" y="221.68" font-size="26" text-anchor="end">20</text>
<line x1="1505.7" y1="266.54" x2="1516.7" y2="266.54" stroke="#333" stroke-width="1.5"/>
<text x="1500.2" y="276.94" font-size="26" text-anchor="end">10</text>
<line x1="1505.7" y1="321.8" x2="1516.7" y2="321.8" stroke="#333" stroke-width="1.5"/>
<text x="1500.2" y="332.2" font-size="26" text-anchor="end">0</text>
<line x1="1516.7" y1="321.8" x2="1701.8" y2="321.8" stroke="#333" stroke-width="1.5"/>
<line x1="1544.4" y1="321.8" x2="1544.4" y2="333.3" stroke="#333" stroke-width="1.5"/>
<line x1="1586.4" y1="321.8" x2="1586.4" y2="333.3" stroke="#333" stroke-width="1.5"/>
<line x1="1628.9" y1="321.8" x2="1628.9" y2="333.3" stroke="#333" stroke-width="1.5"/>
<line x1="1671" y1="321.8" x2="1671" y2="333.3" stroke="#333" stroke-width="1.5"/>
<text x="1523.2" y="386.2" font-size="29" text-anchor="middle" transform="rotate(-45 1523.2 386.2)">Control</text>
<text x="1566" y="389.9" font-size="29" text-anchor="middle" transform="rotate(-45 1566 389.9)">BAY-876</text>
<text x="1610.1" y="384.8" font-size="29" text-anchor="middle" transform="rotate(-45 1610.1 384.8)">αPD-L1</text>
<text x="1649.5" y="389.1" font-size="29" text-anchor="middle" transform="rotate(-45 1649.5 389.1)">Combine</text>
<text x="1463.1" y="291.4" font-size="29" textLength="217" lengthAdjust="spacingAndGlyphs" transform="rotate(-90 1463.1 291.4)" xml:space="preserve">NK  cells (x10<tspan dy="-11.0" font-size="18.0">5</tspan><tspan dy="11.0">/g)</tspan></text>
<line x1="1544.4" y1="260.5" x2="1544.4" y2="275.6" stroke="#111111" stroke-width="1.8"/>
<line x1="1537.9" y1="260.5" x2="1550.9" y2="260.5" stroke="#111111" stroke-width="1.8"/>
<line x1="1537.9" y1="275.6" x2="1550.9" y2="275.6" stroke="#111111" stroke-width="1.8"/>
<line x1="1530.4" y1="267.8" x2="1558.4" y2="267.8" stroke="#111111" stroke-width="1.8"/>
<line x1="1586.4" y1="179.1" x2="1586.4" y2="214.4" stroke="#111111" stroke-width="1.8"/>
<line x1="1579.9" y1="179.1" x2="1592.9" y2="179.1" stroke="#111111" stroke-width="1.8"/>
<line x1="1579.9" y1="214.4" x2="1592.9" y2="214.4" stroke="#111111" stroke-width="1.8"/>
<line x1="1572.4" y1="196.9" x2="1600.4" y2="196.9" stroke="#111111" stroke-width="1.8"/>
<line x1="1628.9" y1="263" x2="1628.9" y2="274.6" stroke="#111111" stroke-width="1.8"/>
<line x1="1622.4" y1="263" x2="1635.4" y2="263" stroke="#111111" stroke-width="1.8"/>
<line x1="1622.4" y1="274.6" x2="1635.4" y2="274.6" stroke="#111111" stroke-width="1.8"/>
<line x1="1614.9" y1="269" x2="1642.9" y2="269" stroke="#111111" stroke-width="1.8"/>
<line x1="1671" y1="187.2" x2="1671" y2="221.2" stroke="#111111" stroke-width="1.8"/>
<line x1="1664.5" y1="187.2" x2="1677.5" y2="187.2" stroke="#111111" stroke-width="1.8"/>
<line x1="1664.5" y1="221.2" x2="1677.5" y2="221.2" stroke="#111111" stroke-width="1.8"/>
<line x1="1657" y1="204.6" x2="1685" y2="204.6" stroke="#111111" stroke-width="1.8"/>
<circle cx="1534.2" cy="249.6" r="4.0" fill="#fff" stroke="#8a8a8a" stroke-width="1.8"/>
<circle cx="1554.8" cy="249.6" r="4.0" fill="#fff" stroke="#8a8a8a" stroke-width="1.8"/>
<circle cx="1544.4" cy="271.5" r="4.0" fill="#fff" stroke="#8a8a8a" stroke-width="1.8"/>
<circle cx="1554.8" cy="280.4" r="4.0" fill="#fff" stroke="#8a8a8a" stroke-width="1.8"/>
<circle cx="1534.2" cy="287.2" r="4.0" fill="#fff" stroke="#8a8a8a" stroke-width="1.8"/>
<circle cx="1586.4" cy="142.7" r="4.0" fill="#fff" stroke="#409ea6" stroke-width="1.8"/>
<circle cx="1586.4" cy="173.5" r="4.0" fill="#fff" stroke="#409ea6" stroke-width="1.8"/>
<circle cx="1576.7" cy="207.6" r="4.0" fill="#fff" stroke="#409ea6" stroke-width="1.8"/>
<circle cx="1596.9" cy="213.1" r="4.0" fill="#fff" stroke="#409ea6" stroke-width="1.8"/>
<circle cx="1586.4" cy="246.4" r="4.0" fill="#fff" stroke="#409ea6" stroke-width="1.8"/>
<circle cx="1618.7" cy="256.2" r="4.0" fill="#fff" stroke="#bf9f2c" stroke-width="1.8"/>
<circle cx="1628.9" cy="263" r="4.0" fill="#fff" stroke="#bf9f2c" stroke-width="1.8"/>
<circle cx="1639.1" cy="261.7" r="4.0" fill="#fff" stroke="#bf9f2c" stroke-width="1.8"/>
<circle cx="1628.9" cy="277.5" r="4.0" fill="#fff" stroke="#bf9f2c" stroke-width="1.8"/>
<circle cx="1628.9" cy="286.8" r="4.0" fill="#fff" stroke="#bf9f2c" stroke-width="1.8"/>
<circle cx="1671" cy="136.6" r="4.0" fill="#fff" stroke="#111111" stroke-width="1.8"/>
<circle cx="1671" cy="187.2" r="4.0" fill="#fff" stroke="#111111" stroke-width="1.8"/>
<circle cx="1671" cy="202.7" r="4.0" fill="#fff" stroke="#111111" stroke-width="1.8"/>
<circle cx="1671" cy="211.9" r="4.0" fill="#fff" stroke="#111111" stroke-width="1.8"/>
<circle cx="1671" cy="222.9" r="4.0" fill="#fff" stroke="#111111" stroke-width="1.8"/>
<circle cx="1671" cy="262.5" r="4.0" fill="#fff" stroke="#111111" stroke-width="1.8"/>
<line x1="1537.8" y1="76.4" x2="1622.1" y2="76.4" stroke="#6a6a6a" stroke-width="1.5"/>
<text x="1540.3" y="70.9" font-size="19.5" textLength="80.9" lengthAdjust="spacingAndGlyphs"><tspan font-style="italic">p</tspan> = 0.9085</text>
<line x1="1586.4" y1="97.3" x2="1670.2" y2="97.3" stroke="#6a6a6a" stroke-width="1.5"/>
<text x="1590" y="91.8" font-size="19.5" textLength="79" lengthAdjust="spacingAndGlyphs"><tspan font-style="italic">p</tspan> = 0.7662</text>
<line x1="1537.8" y1="119.6" x2="1579.1" y2="119.6" stroke="#6a6a6a" stroke-width="1.5"/>
<text x="1518.4" y="116.5" font-size="19.5" textLength="80.2" lengthAdjust="spacingAndGlyphs"><tspan font-style="italic">p</tspan> = 0.0060</text>
<line x1="1628.5" y1="119.6" x2="1670.2" y2="119.6" stroke="#6a6a6a" stroke-width="1.5"/>
<text x="1610.7" y="116.5" font-size="19.5" textLength="79.5" lengthAdjust="spacingAndGlyphs"><tspan font-style="italic">p</tspan> = 0.0087</text>
<line x1="113.8" y1="464.9" x2="113.8" y2="742.35" stroke="#333" stroke-width="1.5"/>
<line x1="102.8" y1="464.9" x2="113.8" y2="464.9" stroke="#333" stroke-width="1.5"/>
<text x="97.3" y="475.3" font-size="26" text-anchor="end">20</text>
<line x1="102.8" y1="534.08" x2="113.8" y2="534.08" stroke="#333" stroke-width="1.5"/>
<text x="97.3" y="544.48" font-size="26" text-anchor="end">15</text>
<line x1="102.8" y1="603.25" x2="113.8" y2="603.25" stroke="#333" stroke-width="1.5"/>
<text x="97.3" y="613.65" font-size="26" text-anchor="end">10</text>
<line x1="102.8" y1="672.42" x2="113.8" y2="672.42" stroke="#333" stroke-width="1.5"/>
<text x="97.3" y="682.82" font-size="26" text-anchor="end">5</text>
<line x1="102.8" y1="741.6" x2="113.8" y2="741.6" stroke="#333" stroke-width="1.5"/>
<text x="97.3" y="752" font-size="26" text-anchor="end">0</text>
<line x1="113.8" y1="741.6" x2="297.4" y2="741.6" stroke="#333" stroke-width="1.5"/>
<line x1="141.5" y1="741.6" x2="141.5" y2="753.1" stroke="#333" stroke-width="1.5"/>
<line x1="184.1" y1="741.6" x2="184.1" y2="753.1" stroke="#333" stroke-width="1.5"/>
<line x1="226.8" y1="741.6" x2="226.8" y2="753.1" stroke="#333" stroke-width="1.5"/>
<line x1="268.9" y1="741.6" x2="268.9" y2="753.1" stroke="#333" stroke-width="1.5"/>
<text x="120.3" y="806" font-size="29" text-anchor="middle" transform="rotate(-45 120.3 806)">Control</text>
<text x="163.7" y="809.7" font-size="29" text-anchor="middle" transform="rotate(-45 163.7 809.7)">BAY-876</text>
<text x="208" y="804.6" font-size="29" text-anchor="middle" transform="rotate(-45 208 804.6)">αPD-L1</text>
<text x="247.4" y="808.9" font-size="29" text-anchor="middle" transform="rotate(-45 247.4 808.9)">Combine</text>
<text x="41.3" y="723.6" font-size="29" textLength="238.9" lengthAdjust="spacingAndGlyphs" transform="rotate(-90 41.3 723.6)" xml:space="preserve">CD11b<tspan dy="-11.0" font-size="18.0">+</tspan><tspan dy="11.0">Gr1<tspan dy="-11.0" font-size="18.0">+</tspan><tspan dy="11.0"> cell in</tspan></tspan></text>
<text x="66.5" y="699.5" font-size="29" textLength="199.4" lengthAdjust="spacingAndGlyphs" transform="rotate(-90 66.5 699.5)" xml:space="preserve">CD45<tspan dy="-11.0" font-size="18.0">+</tspan><tspan dy="11.0"> cells (%)</tspan></text>
<line x1="141.5" y1="605.3" x2="141.5" y2="612.3" stroke="#111111" stroke-width="1.8"/>
<line x1="135" y1="605.3" x2="148" y2="605.3" stroke="#111111" stroke-width="1.8"/>
<line x1="135" y1="612.3" x2="148" y2="612.3" stroke="#111111" stroke-width="1.8"/>
<line x1="127.5" y1="609" x2="155.5" y2="609" stroke="#111111" stroke-width="1.8"/>
<line x1="184.1" y1="610.5" x2="184.1" y2="627.8" stroke="#111111" stroke-width="1.8"/>
<line x1="177.6" y1="610.5" x2="190.6" y2="610.5" stroke="#111111" stroke-width="1.8"/>
<line x1="177.6" y1="627.8" x2="190.6" y2="627.8" stroke="#111111" stroke-width="1.8"/>
<line x1="170.1" y1="619.5" x2="198.1" y2="619.5" stroke="#111111" stroke-width="1.8"/>
<line x1="226.8" y1="609" x2="226.8" y2="627" stroke="#111111" stroke-width="1.8"/>
<line x1="220.3" y1="609" x2="233.3" y2="609" stroke="#111111" stroke-width="1.8"/>
<line x1="220.3" y1="627" x2="233.3" y2="627" stroke="#111111" stroke-width="1.8"/>
<line x1="212.8" y1="618.3" x2="240.8" y2="618.3" stroke="#111111" stroke-width="1.8"/>
<line x1="268.9" y1="576.9" x2="268.9" y2="602.7" stroke="#111111" stroke-width="1.8"/>
<line x1="262.4" y1="576.9" x2="275.4" y2="576.9" stroke="#111111" stroke-width="1.8"/>
<line x1="262.4" y1="602.7" x2="275.4" y2="602.7" stroke="#111111" stroke-width="1.8"/>
<line x1="254.9" y1="589" x2="282.9" y2="589" stroke="#111111" stroke-width="1.8"/>
<circle cx="141.7" cy="596.3" r="4.0" fill="#fff" stroke="#8a8a8a" stroke-width="1.8"/>
<circle cx="131.9" cy="607.9" r="4.0" fill="#fff" stroke="#8a8a8a" stroke-width="1.8"/>
<circle cx="141.7" cy="607.9" r="4.0" fill="#fff" stroke="#8a8a8a" stroke-width="1.8"/>
<circle cx="152.1" cy="611.5" r="4.0" fill="#fff" stroke="#8a8a8a" stroke-width="1.8"/>
<circle cx="131.9" cy="618.8" r="4.0" fill="#fff" stroke="#8a8a8a" stroke-width="1.8"/>
<circle cx="184.1" cy="595" r="4.0" fill="#fff" stroke="#409ea6" stroke-width="1.8"/>
<circle cx="184.1" cy="608.4" r="4.0" fill="#fff" stroke="#409ea6" stroke-width="1.8"/>
<circle cx="184.1" cy="618.3" r="4.0" fill="#fff" stroke="#409ea6" stroke-width="1.8"/>
<circle cx="184.1" cy="628.6" r="4.0" fill="#fff" stroke="#409ea6" stroke-width="1.8"/>
<circle cx="184.1" cy="645.2" r="4.0" fill="#fff" stroke="#409ea6" stroke-width="1.8"/>
<circle cx="217.2" cy="595" r="4.0" fill="#fff" stroke="#bf9f2c" stroke-width="1.8"/>
<circle cx="236.6" cy="602" r="4.0" fill="#fff" stroke="#bf9f2c" stroke-width="1.8"/>
<circle cx="217.2" cy="622.7" r="4.0" fill="#fff" stroke="#bf9f2c" stroke-width="1.8"/>
<circle cx="236.6" cy="625.2" r="4.0" fill="#fff" stroke="#bf9f2c" stroke-width="1.8"/>
<circle cx="226.8" cy="645.2" r="4.0" fill="#fff" stroke="#bf9f2c" stroke-width="1.8"/>
<circle cx="268.9" cy="536" r="4.0" fill="#fff" stroke="#111111" stroke-width="1.8"/>
<circle cx="258.6" cy="582.6" r="4.0" fill="#fff" stroke="#111111" stroke-width="1.8"/>
<circle cx="279.3" cy="584.6" r="4.0" fill="#fff" stroke="#111111" stroke-width="1.8"/>
<circle cx="258.6" cy="597.6" r="4.0" fill="#fff" stroke="#111111" stroke-width="1.8"/>
<circle cx="279.3" cy="602" r="4.0" fill="#fff" stroke="#111111" stroke-width="1.8"/>
<circle cx="268.9" cy="636.4" r="4.0" fill="#fff" stroke="#111111" stroke-width="1.8"/>
<line x1="137" y1="480.4" x2="225" y2="480.4" stroke="#6a6a6a" stroke-width="1.5"/>
<text x="138.3" y="474.9" font-size="19.5" textLength="79.4" lengthAdjust="spacingAndGlyphs"><tspan font-style="italic">p</tspan> = 0.3364</text>
<line x1="181.5" y1="499.8" x2="269.5" y2="499.8" stroke="#6a6a6a" stroke-width="1.5"/>
<text x="185.7" y="494.3" font-size="19.5" textLength="78" lengthAdjust="spacingAndGlyphs"><tspan font-style="italic">p</tspan> = 0.1116</text>
<line x1="137" y1="527.5" x2="179.7" y2="527.5" stroke="#6a6a6a" stroke-width="1.5"/>
<text x="119" y="524.4" font-size="19.5" textLength="80.1" lengthAdjust="spacingAndGlyphs"><tspan font-style="italic">p</tspan> = 0.2749</text>
<line x1="226.3" y1="527.5" x2="269.5" y2="527.5" stroke="#6a6a6a" stroke-width="1.5"/>
<text x="208.2" y="524.4" font-size="19.5" textLength="80.1" lengthAdjust="spacingAndGlyphs"><tspan font-style="italic">p</tspan> = 0.1259</text>
<line x1="382.8" y1="465.6" x2="382.8" y2="743.05" stroke="#333" stroke-width="1.5"/>
<line x1="371.8" y1="465.6" x2="382.8" y2="465.6" stroke="#333" stroke-width="1.5"/>
<text x="366.3" y="476" font-size="26" text-anchor="end">20</text>
<line x1="371.8" y1="534.77" x2="382.8" y2="534.77" stroke="#333" stroke-width="1.5"/>
<text x="366.3" y="545.17" font-size="26" text-anchor="end">15</text>
<line x1="371.8" y1="603.95" x2="382.8" y2="603.95" stroke="#333" stroke-width="1.5"/>
<text x="366.3" y="614.35" font-size="26" text-anchor="end">10</text>
<line x1="371.8" y1="673.12" x2="382.8" y2="673.12" stroke="#333" stroke-width="1.5"/>
<text x="366.3" y="683.52" font-size="26" text-anchor="end">5</text>
<line x1="371.8" y1="742.3" x2="382.8" y2="742.3" stroke="#333" stroke-width="1.5"/>
<text x="366.3" y="752.7" font-size="26" text-anchor="end">0</text>
<line x1="382.8" y1="742.3" x2="568.5" y2="742.3" stroke="#333" stroke-width="1.5"/>
<line x1="410.4" y1="742.3" x2="410.4" y2="753.8" stroke="#333" stroke-width="1.5"/>
<line x1="452.6" y1="742.3" x2="452.6" y2="753.8" stroke="#333" stroke-width="1.5"/>
<line x1="495.2" y1="742.3" x2="495.2" y2="753.8" stroke="#333" stroke-width="1.5"/>
<line x1="537.9" y1="742.3" x2="537.9" y2="753.8" stroke="#333" stroke-width="1.5"/>
<text x="389.2" y="806.7" font-size="29" text-anchor="middle" transform="rotate(-45 389.2 806.7)">Control</text>
<text x="432.2" y="810.4" font-size="29" text-anchor="middle" transform="rotate(-45 432.2 810.4)">BAY-876</text>
<text x="476.4" y="805.3" font-size="29" text-anchor="middle" transform="rotate(-45 476.4 805.3)">αPD-L1</text>
<text x="516.4" y="809.6" font-size="29" text-anchor="middle" transform="rotate(-45 516.4 809.6)">Combine</text>
<text x="336.8" y="707.6" font-size="29" textLength="205.7" lengthAdjust="spacingAndGlyphs" transform="rotate(-90 336.8 707.6)" xml:space="preserve">MDSCs (x10<tspan dy="-11.0" font-size="18.0">6</tspan><tspan dy="11.0">/g)</tspan></text>
<line x1="410.4" y1="691.4" x2="410.4" y2="700.9" stroke="#111111" stroke-width="1.8"/>
<line x1="403.9" y1="691.4" x2="416.9" y2="691.4" stroke="#111111" stroke-width="1.8"/>
<line x1="403.9" y1="700.9" x2="416.9" y2="700.9" stroke="#111111" stroke-width="1.8"/>
<line x1="396.4" y1="696.4" x2="424.4" y2="696.4" stroke="#111111" stroke-width="1.8"/>
<line x1="452.6" y1="670" x2="452.6" y2="678.3" stroke="#111111" stroke-width="1.8"/>
<line x1="446.1" y1="670" x2="459.1" y2="670" stroke="#111111" stroke-width="1.8"/>
<line x1="446.1" y1="678.3" x2="459.1" y2="678.3" stroke="#111111" stroke-width="1.8"/>
<line x1="438.6" y1="673.8" x2="466.6" y2="673.8" stroke="#111111" stroke-width="1.8"/>
<line x1="495.2" y1="690.5" x2="495.2" y2="694.5" stroke="#111111" stroke-width="1.8"/>
<line x1="488.7" y1="690.5" x2="501.7" y2="690.5" stroke="#111111" stroke-width="1.8"/>
<line x1="488.7" y1="694.5" x2="501.7" y2="694.5" stroke="#111111" stroke-width="1.8"/>
<line x1="481.2" y1="692.9" x2="509.2" y2="692.9" stroke="#111111" stroke-width="1.8"/>
<line x1="537.9" y1="642.7" x2="537.9" y2="661.3" stroke="#111111" stroke-width="1.8"/>
<line x1="531.4" y1="642.7" x2="544.4" y2="642.7" stroke="#111111" stroke-width="1.8"/>
<line x1="531.4" y1="661.3" x2="544.4" y2="661.3" stroke="#111111" stroke-width="1.8"/>
<line x1="523.9" y1="652.7" x2="551.9" y2="652.7" stroke="#111111" stroke-width="1.8"/>
<circle cx="400.4" cy="682.9" r="4.0" fill="#fff" stroke="#8a8a8a" stroke-width="1.8"/>
<circle cx="400.4" cy="693.4" r="4.0" fill="#fff" stroke="#8a8a8a" stroke-width="1.8"/>
<circle cx="420.5" cy="690.4" r="4.0" fill="#fff" stroke="#8a8a8a" stroke-width="1.8"/>
<circle cx="420.5" cy="700.9" r="4.0" fill="#fff" stroke="#8a8a8a" stroke-width="1.8"/>
<circle cx="410.4" cy="713" r="4.0" fill="#fff" stroke="#8a8a8a" stroke-width="1.8"/>
<circle cx="442.5" cy="665.8" r="4.0" fill="#fff" stroke="#409ea6" stroke-width="1.8"/>
<circle cx="450.6" cy="669.6" r="4.0" fill="#fff" stroke="#409ea6" stroke-width="1.8"/>
<circle cx="463.1" cy="667" r="4.0" fill="#fff" stroke="#409ea6" stroke-width="1.8"/>
<circle cx="455.6" cy="673.3" r="4.0" fill="#fff" stroke="#409ea6" stroke-width="1.8"/>
<circle cx="452.6" cy="694.6" r="4.0" fill="#fff" stroke="#409ea6" stroke-width="1.8"/>
<circle cx="485.2" cy="685.4" r="4.0" fill="#fff" stroke="#bf9f2c" stroke-width="1.8"/>
<circle cx="492" cy="692.9" r="4.0" fill="#fff" stroke="#bf9f2c" stroke-width="1.8"/>
<circle cx="499.5" cy="692.9" r="4.0" fill="#fff" stroke="#bf9f2c" stroke-width="1.8"/>
<circle cx="505.3" cy="692.9" r="4.0" fill="#fff" stroke="#bf9f2c" stroke-width="1.8"/>
<circle cx="495.2" cy="701.4" r="4.0" fill="#fff" stroke="#bf9f2c" stroke-width="1.8"/>
<circle cx="537.9" cy="620.6" r="4.0" fill="#fff" stroke="#111111" stroke-width="1.8"/>
<circle cx="527.8" cy="640.7" r="4.0" fill="#fff" stroke="#111111" stroke-width="1.8"/>
<circle cx="547.9" cy="635.2" r="4.0" fill="#fff" stroke="#111111" stroke-width="1.8"/>
<circle cx="527.8" cy="667" r="4.0" fill="#fff" stroke="#111111" stroke-width="1.8"/>
<circle cx="547.9" cy="670.3" r="4.0" fill="#fff" stroke="#111111" stroke-width="1.8"/>
<circle cx="527.8" cy="677.8" r="4.0" fill="#fff" stroke="#111111" stroke-width="1.8"/>
<line x1="404.2" y1="562.4" x2="492" y2="562.4" stroke="#6a6a6a" stroke-width="1.5"/>
<text x="405.4" y="556.9" font-size="19.5" textLength="81.6" lengthAdjust="spacingAndGlyphs"><tspan font-style="italic">p</tspan> = 0.6000</text>
<line x1="449.3" y1="585" x2="536.4" y2="585" stroke="#6a6a6a" stroke-width="1.5"/>
<text x="450.6" y="579.5" font-size="19.5" textLength="80.2" lengthAdjust="spacingAndGlyphs"><tspan font-style="italic">p</tspan> = 0.0892</text>
<line x1="404.2" y1="608.6" x2="447.6" y2="608.6" stroke="#6a6a6a" stroke-width="1.5"/>
<text x="387.3" y="605.5" font-size="19.5" textLength="80.8" lengthAdjust="spacingAndGlyphs"><tspan font-style="italic">p</tspan> = 0.0159</text>
<line x1="493.2" y1="608.6" x2="535.9" y2="608.6" stroke="#6a6a6a" stroke-width="1.5"/>
<text x="474.4" y="605.5" font-size="19.5" textLength="81" lengthAdjust="spacingAndGlyphs"><tspan font-style="italic">p</tspan> = 0.0040</text>
<line x1="679.5" y1="463.6" x2="679.5" y2="739.85" stroke="#333" stroke-width="1.5"/>
<line x1="668.5" y1="463.6" x2="679.5" y2="463.6" stroke="#333" stroke-width="1.5"/>
<text x="663" y="474" font-size="26" text-anchor="end">60</text>
<line x1="668.5" y1="555.43" x2="679.5" y2="555.43" stroke="#333" stroke-width="1.5"/>
<text x="663" y="565.83" font-size="26" text-anchor="end">40</text>
<line x1="668.5" y1="647.27" x2="679.5" y2="647.27" stroke="#333" stroke-width="1.5"/>
<text x="663" y="657.67" font-size="26" text-anchor="end">20</text>
<line x1="668.5" y1="739.1" x2="679.5" y2="739.1" stroke="#333" stroke-width="1.5"/>
<text x="663" y="749.5" font-size="26" text-anchor="end">0</text>
<line x1="679.5" y1="739.1" x2="864" y2="739.1" stroke="#333" stroke-width="1.5"/>
<line x1="706.9" y1="739.1" x2="706.9" y2="750.6" stroke="#333" stroke-width="1.5"/>
<line x1="749.6" y1="739.1" x2="749.6" y2="750.6" stroke="#333" stroke-width="1.5"/>
<line x1="792" y1="739.1" x2="792" y2="750.6" stroke="#333" stroke-width="1.5"/>
<line x1="834.2" y1="739.1" x2="834.2" y2="750.6" stroke="#333" stroke-width="1.5"/>
<text x="685.7" y="803.5" font-size="29" text-anchor="middle" transform="rotate(-45 685.7 803.5)">Control</text>
<text x="729.2" y="807.2" font-size="29" text-anchor="middle" transform="rotate(-45 729.2 807.2)">BAY-876</text>
<text x="773.2" y="802.1" font-size="29" text-anchor="middle" transform="rotate(-45 773.2 802.1)">αPD-L1</text>
<text x="812.7" y="806.4" font-size="29" text-anchor="middle" transform="rotate(-45 812.7 806.4)">Combine</text>
<text x="604.2" y="729.8" font-size="29" textLength="259.1" lengthAdjust="spacingAndGlyphs" transform="rotate(-90 604.2 729.8)" xml:space="preserve">CD11b<tspan dy="-11.0" font-size="18.0">+</tspan><tspan dy="11.0">F4/80<tspan dy="-11.0" font-size="18.0">+</tspan><tspan dy="11.0"> cell in</tspan></tspan></text>
<text x="629.9" y="704.1" font-size="29" textLength="204.3" lengthAdjust="spacingAndGlyphs" transform="rotate(-90 629.9 704.1)" xml:space="preserve">CD45<tspan dy="-11.0" font-size="18.0">+</tspan><tspan dy="11.0"> cells (%)</tspan></text>
<line x1="706.9" y1="602" x2="706.9" y2="618.8" stroke="#111111" stroke-width="1.8"/>
<line x1="700.4" y1="602" x2="713.4" y2="602" stroke="#111111" stroke-width="1.8"/>
<line x1="700.4" y1="618.8" x2="713.4" y2="618.8" stroke="#111111" stroke-width="1.8"/>
<line x1="692.9" y1="610.5" x2="720.9" y2="610.5" stroke="#111111" stroke-width="1.8"/>
<line x1="749.6" y1="589.9" x2="749.6" y2="607.2" stroke="#111111" stroke-width="1.8"/>
<line x1="743.1" y1="589.9" x2="756.1" y2="589.9" stroke="#111111" stroke-width="1.8"/>
<line x1="743.1" y1="607.2" x2="756.1" y2="607.2" stroke="#111111" stroke-width="1.8"/>
<line x1="735.6" y1="598.6" x2="763.6" y2="598.6" stroke="#111111" stroke-width="1.8"/>
<line x1="792" y1="596.8" x2="792" y2="604.6" stroke="#111111" stroke-width="1.8"/>
<line x1="785.5" y1="596.8" x2="798.5" y2="596.8" stroke="#111111" stroke-width="1.8"/>
<line x1="785.5" y1="604.6" x2="798.5" y2="604.6" stroke="#111111" stroke-width="1.8"/>
<line x1="778" y1="600.7" x2="806" y2="600.7" stroke="#111111" stroke-width="1.8"/>
<line x1="834.2" y1="587.8" x2="834.2" y2="593.5" stroke="#111111" stroke-width="1.8"/>
<line x1="827.7" y1="587.8" x2="840.7" y2="587.8" stroke="#111111" stroke-width="1.8"/>
<line x1="827.7" y1="593.5" x2="840.7" y2="593.5" stroke="#111111" stroke-width="1.8"/>
<line x1="820.2" y1="590.9" x2="848.2" y2="590.9" stroke="#111111" stroke-width="1.8"/>
<circle cx="706.9" cy="576.9" r="4.0" fill="#fff" stroke="#8a8a8a" stroke-width="1.8"/>
<circle cx="697.1" cy="611.6" r="4.0" fill="#fff" stroke="#8a8a8a" stroke-width="1.8"/>
<circle cx="706.9" cy="615.7" r="4.0" fill="#fff" stroke="#8a8a8a" stroke-width="1.8"/>
<circle cx="717.3" cy="619.3" r="4.0" fill="#fff" stroke="#8a8a8a" stroke-width="1.8"/>
<circle cx="697.1" cy="627.1" r="4.0" fill="#fff" stroke="#8a8a8a" stroke-width="1.8"/>
<circle cx="739" cy="577.4" r="4.0" fill="#fff" stroke="#409ea6" stroke-width="1.8"/>
<circle cx="759.7" cy="582.1" r="4.0" fill="#fff" stroke="#409ea6" stroke-width="1.8"/>
<circle cx="749.6" cy="597.6" r="4.0" fill="#fff" stroke="#409ea6" stroke-width="1.8"/>
<circle cx="739" cy="619.3" r="4.0" fill="#fff" stroke="#409ea6" stroke-width="1.8"/>
<circle cx="759.7" cy="615.7" r="4.0" fill="#fff" stroke="#409ea6" stroke-width="1.8"/>
<circle cx="792.3" cy="589.1" r="4.0" fill="#fff" stroke="#bf9f2c" stroke-width="1.8"/>
<circle cx="781.9" cy="594.3" r="4.0" fill="#fff" stroke="#bf9f2c" stroke-width="1.8"/>
<circle cx="802.4" cy="597.6" r="4.0" fill="#fff" stroke="#bf9f2c" stroke-width="1.8"/>
<circle cx="792.3" cy="605.9" r="4.0" fill="#fff" stroke="#bf9f2c" stroke-width="1.8"/>
<circle cx="792.3" cy="616.8" r="4.0" fill="#fff" stroke="#bf9f2c" stroke-width="1.8"/>
<circle cx="824.4" cy="585.7" r="4.0" fill="#fff" stroke="#111111" stroke-width="1.8"/>
<circle cx="834.2" cy="583.1" r="4.0" fill="#fff" stroke="#111111" stroke-width="1.8"/>
<circle cx="844.5" cy="582.1" r="4.0" fill="#fff" stroke="#111111" stroke-width="1.8"/>
<circle cx="834.2" cy="590.9" r="4.0" fill="#fff" stroke="#111111" stroke-width="1.8"/>
<circle cx="844.5" cy="590.9" r="4.0" fill="#fff" stroke="#111111" stroke-width="1.8"/>
<circle cx="834.2" cy="605.4" r="4.0" fill="#fff" stroke="#111111" stroke-width="1.8"/>
<line x1="705.4" y1="516.1" x2="794.1" y2="516.1" stroke="#6a6a6a" stroke-width="1.5"/>
<text x="707.4" y="510.6" font-size="19.5" textLength="80.2" lengthAdjust="spacingAndGlyphs"><tspan font-style="italic">p</tspan> = 0.3743</text>
<line x1="750.1" y1="539.9" x2="838.1" y2="539.9" stroke="#6a6a6a" stroke-width="1.5"/>
<text x="756.6" y="534.4" font-size="19.5" textLength="80.3" lengthAdjust="spacingAndGlyphs"><tspan font-style="italic">p</tspan> = 0.4156</text>
<line x1="705.4" y1="563.2" x2="748.8" y2="563.2" stroke="#6a6a6a" stroke-width="1.5"/>
<text x="684.9" y="560.1" font-size="19.5" textLength="80.7" lengthAdjust="spacingAndGlyphs"><tspan font-style="italic">p</tspan> = 0.3638</text>
<line x1="794.1" y1="563.2" x2="838.1" y2="563.2" stroke="#6a6a6a" stroke-width="1.5"/>
<text x="774.2" y="560.1" font-size="19.5" textLength="80.2" lengthAdjust="spacingAndGlyphs"><tspan font-style="italic">p</tspan> = 0.1313</text>
<line x1="937.3" y1="464.3" x2="937.3" y2="741.35" stroke="#333" stroke-width="1.5"/>
<line x1="926.3" y1="464.3" x2="937.3" y2="464.3" stroke="#333" stroke-width="1.5"/>
<text x="920.8" y="474.7" font-size="26" text-anchor="end">50</text>
<line x1="926.3" y1="519.56" x2="937.3" y2="519.56" stroke="#333" stroke-width="1.5"/>
<text x="920.8" y="529.96" font-size="26" text-anchor="end">40</text>
<line x1="926.3" y1="574.82" x2="937.3" y2="574.82" stroke="#333" stroke-width="1.5"/>
<text x="920.8" y="585.22" font-size="26" text-anchor="end">30</text>
<line x1="926.3" y1="630.08" x2="937.3" y2="630.08" stroke="#333" stroke-width="1.5"/>
<text x="920.8" y="640.48" font-size="26" text-anchor="end">20</text>
<line x1="926.3" y1="685.34" x2="937.3" y2="685.34" stroke="#333" stroke-width="1.5"/>
<text x="920.8" y="695.74" font-size="26" text-anchor="end">10</text>
<line x1="926.3" y1="740.6" x2="937.3" y2="740.6" stroke="#333" stroke-width="1.5"/>
<text x="920.8" y="751" font-size="26" text-anchor="end">0</text>
<line x1="937.3" y1="740.6" x2="1122.2" y2="740.6" stroke="#333" stroke-width="1.5"/>
<line x1="964.9" y1="740.6" x2="964.9" y2="752.1" stroke="#333" stroke-width="1.5"/>
<line x1="1007.5" y1="740.6" x2="1007.5" y2="752.1" stroke="#333" stroke-width="1.5"/>
<line x1="1049.9" y1="740.6" x2="1049.9" y2="752.1" stroke="#333" stroke-width="1.5"/>
<line x1="1092.6" y1="740.6" x2="1092.6" y2="752.1" stroke="#333" stroke-width="1.5"/>
<text x="943.7" y="805" font-size="29" text-anchor="middle" transform="rotate(-45 943.7 805)">Control</text>
<text x="987.1" y="808.7" font-size="29" text-anchor="middle" transform="rotate(-45 987.1 808.7)">BAY-876</text>
<text x="1031.1" y="803.6" font-size="29" text-anchor="middle" transform="rotate(-45 1031.1 803.6)">αPD-L1</text>
<text x="1071.1" y="807.9" font-size="29" text-anchor="middle" transform="rotate(-45 1071.1 807.9)">Combine</text>
<text x="886.3" y="697.3" font-size="29" textLength="186.6" lengthAdjust="spacingAndGlyphs" transform="rotate(-90 886.3 697.3)" xml:space="preserve">TAMs (x10<tspan dy="-11.0" font-size="18.0">6</tspan><tspan dy="11.0">/g)</tspan></text>
<line x1="964.9" y1="686.4" x2="964.9" y2="690.4" stroke="#111111" stroke-width="1.8"/>
<line x1="958.4" y1="686.4" x2="971.4" y2="686.4" stroke="#111111" stroke-width="1.8"/>
<line x1="958.4" y1="690.4" x2="971.4" y2="690.4" stroke="#111111" stroke-width="1.8"/>
<line x1="950.9" y1="688.4" x2="978.9" y2="688.4" stroke="#111111" stroke-width="1.8"/>
<line x1="1007.5" y1="641.2" x2="1007.5" y2="655.8" stroke="#111111" stroke-width="1.8"/>
<line x1="1001" y1="641.2" x2="1014" y2="641.2" stroke="#111111" stroke-width="1.8"/>
<line x1="1001" y1="655.8" x2="1014" y2="655.8" stroke="#111111" stroke-width="1.8"/>
<line x1="993.5" y1="648.2" x2="1021.5" y2="648.2" stroke="#111111" stroke-width="1.8"/>
<line x1="1049.9" y1="676.3" x2="1049.9" y2="685.4" stroke="#111111" stroke-width="1.8"/>
<line x1="1043.4" y1="676.3" x2="1056.4" y2="676.3" stroke="#111111" stroke-width="1.8"/>
<line x1="1043.4" y1="685.4" x2="1056.4" y2="685.4" stroke="#111111" stroke-width="1.8"/>
<line x1="1035.9" y1="681.3" x2="1063.9" y2="681.3" stroke="#111111" stroke-width="1.8"/>
<line x1="1092.6" y1="610.6" x2="1092.6" y2="634.4" stroke="#111111" stroke-width="1.8"/>
<line x1="1086.1" y1="610.6" x2="1099.1" y2="610.6" stroke="#111111" stroke-width="1.8"/>
<line x1="1086.1" y1="634.4" x2="1099.1" y2="634.4" stroke="#111111" stroke-width="1.8"/>
<line x1="1078.6" y1="623.1" x2="1106.6" y2="623.1" stroke="#111111" stroke-width="1.8"/>
<circle cx="954.8" cy="680.3" r="4.0" fill="#fff" stroke="#8a8a8a" stroke-width="1.8"/>
<circle cx="961.6" cy="687.1" r="4.0" fill="#fff" stroke="#8a8a8a" stroke-width="1.8"/>
<circle cx="975.4" cy="690.4" r="4.0" fill="#fff" stroke="#8a8a8a" stroke-width="1.8"/>
<circle cx="954.8" cy="693.9" r="4.0" fill="#fff" stroke="#8a8a8a" stroke-width="1.8"/>
<circle cx="968.4" cy="693.4" r="4.0" fill="#fff" stroke="#8a8a8a" stroke-width="1.8"/>
<circle cx="1007.5" cy="635.2" r="4.0" fill="#fff" stroke="#409ea6" stroke-width="1.8"/>
<circle cx="997.5" cy="642" r="4.0" fill="#fff" stroke="#409ea6" stroke-width="1.8"/>
<circle cx="1017.6" cy="642" r="4.0" fill="#fff" stroke="#409ea6" stroke-width="1.8"/>
<circle cx="1007.5" cy="647" r="4.0" fill="#fff" stroke="#409ea6" stroke-width="1.8"/>
<circle cx="1007.5" cy="676.3" r="4.0" fill="#fff" stroke="#409ea6" stroke-width="1.8"/>
<circle cx="1049.9" cy="667" r="4.0" fill="#fff" stroke="#bf9f2c" stroke-width="1.8"/>
<circle cx="1040.1" cy="677.1" r="4.0" fill="#fff" stroke="#bf9f2c" stroke-width="1.8"/>
<circle cx="1049.9" cy="682.8" r="4.0" fill="#fff" stroke="#bf9f2c" stroke-width="1.8"/>
<circle cx="1060" cy="682.8" r="4.0" fill="#fff" stroke="#bf9f2c" stroke-width="1.8"/>
<circle cx="1049.9" cy="695.4" r="4.0" fill="#fff" stroke="#bf9f2c" stroke-width="1.8"/>
<circle cx="1082" cy="594.3" r="4.0" fill="#fff" stroke="#111111" stroke-width="1.8"/>
<circle cx="1092.8" cy="599.3" r="4.0" fill="#fff" stroke="#111111" stroke-width="1.8"/>
<circle cx="1102.9" cy="594.3" r="4.0" fill="#fff" stroke="#111111" stroke-width="1.8"/>
<circle cx="1092.8" cy="642.7" r="4.0" fill="#fff" stroke="#111111" stroke-width="1.8"/>
<circle cx="1087.8" cy="652" r="4.0" fill="#fff" stroke="#111111" stroke-width="1.8"/>
<circle cx="1097.8" cy="652" r="4.0" fill="#fff" stroke="#111111" stroke-width="1.8"/>
<line x1="961.6" y1="535.8" x2="1049.4" y2="535.8" stroke="#6a6a6a" stroke-width="1.5"/>
<text x="965.4" y="530.3" font-size="19.5" textLength="80.8" lengthAdjust="spacingAndGlyphs"><tspan font-style="italic">p</tspan> = 0.1510</text>
<line x1="1006.8" y1="559.2" x2="1094.6" y2="559.2" stroke="#6a6a6a" stroke-width="1.5"/>
<text x="1010" y="553.7" font-size="19.5" textLength="80.3" lengthAdjust="spacingAndGlyphs"><tspan font-style="italic">p</tspan> = 0.1168</text>
<line x1="961.6" y1="583" x2="1005" y2="583" stroke="#6a6a6a" stroke-width="1.5"/>
<text x="944" y="579.9" font-size="19.5" textLength="80.3" lengthAdjust="spacingAndGlyphs"><tspan font-style="italic">p</tspan> = 0.0007</text>
<line x1="1050.7" y1="583" x2="1093.8" y2="583" stroke="#6a6a6a" stroke-width="1.5"/>
<text x="1034.4" y="579.9" font-size="19.5" textLength="81" lengthAdjust="spacingAndGlyphs"><tspan font-style="italic">p</tspan> = 0.0024</text>
<line x1="1247.4" y1="460.8" x2="1247.4" y2="737.25" stroke="#333" stroke-width="1.5"/>
<line x1="1236.4" y1="460.8" x2="1247.4" y2="460.8" stroke="#333" stroke-width="1.5"/>
<text x="1230.9" y="471.2" font-size="26" text-anchor="end">2.0</text>
<line x1="1236.4" y1="529.73" x2="1247.4" y2="529.73" stroke="#333" stroke-width="1.5"/>
<text x="1230.9" y="540.12" font-size="26" text-anchor="end">1.5</text>
<line x1="1236.4" y1="598.65" x2="1247.4" y2="598.65" stroke="#333" stroke-width="1.5"/>
<text x="1230.9" y="609.05" font-size="26" text-anchor="end">1.0</text>
<line x1="1236.4" y1="667.58" x2="1247.4" y2="667.58" stroke="#333" stroke-width="1.5"/>
<text x="1230.9" y="677.98" font-size="26" text-anchor="end">0.5</text>
<line x1="1236.4" y1="736.5" x2="1247.4" y2="736.5" stroke="#333" stroke-width="1.5"/>
<text x="1230.9" y="746.9" font-size="26" text-anchor="end">0.0</text>
<line x1="1247.4" y1="736.5" x2="1431.7" y2="736.5" stroke="#333" stroke-width="1.5"/>
<line x1="1275.1" y1="736.5" x2="1275.1" y2="748" stroke="#333" stroke-width="1.5"/>
<line x1="1317.7" y1="736.5" x2="1317.7" y2="748" stroke="#333" stroke-width="1.5"/>
<line x1="1360.3" y1="736.5" x2="1360.3" y2="748" stroke="#333" stroke-width="1.5"/>
<line x1="1402.4" y1="736.5" x2="1402.4" y2="748" stroke="#333" stroke-width="1.5"/>
<text x="1253.9" y="800.9" font-size="29" text-anchor="middle" transform="rotate(-45 1253.9 800.9)">Control</text>
<text x="1297.3" y="804.6" font-size="29" text-anchor="middle" transform="rotate(-45 1297.3 804.6)">BAY-876</text>
<text x="1341.5" y="799.5" font-size="29" text-anchor="middle" transform="rotate(-45 1341.5 799.5)">αPD-L1</text>
<text x="1380.9" y="803.8" font-size="29" text-anchor="middle" transform="rotate(-45 1380.9 803.8)">Combine</text>
<text x="1173" y="747.8" font-size="29" textLength="306.5" lengthAdjust="spacingAndGlyphs" transform="rotate(-90 1173 747.8)" xml:space="preserve">MHC-II<tspan dy="-11.0" font-size="18.0">+</tspan><tspan dy="11.0">CD11c<tspan dy="-11.0" font-size="18.0">+</tspan><tspan dy="11.0">  Cell  in</tspan></tspan></text>
<text x="1200.1" y="706.5" font-size="29" textLength="217.4" lengthAdjust="spacingAndGlyphs" transform="rotate(-90 1200.1 706.5)" xml:space="preserve">CD45<tspan dy="-11.0" font-size="18.0">+</tspan><tspan dy="11.0"> Cells (%)</tspan></text>
<line x1="1275.1" y1="595.9" x2="1275.1" y2="612.4" stroke="#111111" stroke-width="1.8"/>
<line x1="1268.6" y1="595.9" x2="1281.6" y2="595.9" stroke="#111111" stroke-width="1.8"/>
<line x1="1268.6" y1="612.4" x2="1281.6" y2="612.4" stroke="#111111" stroke-width="1.8"/>
<line x1="1261.1" y1="604.4" x2="1289.1" y2="604.4" stroke="#111111" stroke-width="1.8"/>
<line x1="1317.7" y1="598" x2="1317.7" y2="614.5" stroke="#111111" stroke-width="1.8"/>
<line x1="1311.2" y1="598" x2="1324.2" y2="598" stroke="#111111" stroke-width="1.8"/>
<line x1="1311.2" y1="614.5" x2="1324.2" y2="614.5" stroke="#111111" stroke-width="1.8"/>
<line x1="1303.7" y1="606" x2="1331.7" y2="606" stroke="#111111" stroke-width="1.8"/>
<line x1="1360.3" y1="609.7" x2="1360.3" y2="629.2" stroke="#111111" stroke-width="1.8"/>
<line x1="1353.8" y1="609.7" x2="1366.8" y2="609.7" stroke="#111111" stroke-width="1.8"/>
<line x1="1353.8" y1="629.2" x2="1366.8" y2="629.2" stroke="#111111" stroke-width="1.8"/>
<line x1="1346.3" y1="619.3" x2="1374.3" y2="619.3" stroke="#111111" stroke-width="1.8"/>
<line x1="1402.4" y1="601.7" x2="1402.4" y2="637.2" stroke="#111111" stroke-width="1.8"/>
<line x1="1395.9" y1="601.7" x2="1408.9" y2="601.7" stroke="#111111" stroke-width="1.8"/>
<line x1="1395.9" y1="637.2" x2="1408.9" y2="637.2" stroke="#111111" stroke-width="1.8"/>
<line x1="1388.4" y1="619.3" x2="1416.4" y2="619.3" stroke="#111111" stroke-width="1.8"/>
<circle cx="1275.9" cy="583.1" r="4.0" fill="#fff" stroke="#8a8a8a" stroke-width="1.8"/>
<circle cx="1265.2" cy="595.9" r="4.0" fill="#fff" stroke="#8a8a8a" stroke-width="1.8"/>
<circle cx="1285.7" cy="593.2" r="4.0" fill="#fff" stroke="#8a8a8a" stroke-width="1.8"/>
<circle cx="1275.9" cy="619.3" r="4.0" fill="#fff" stroke="#8a8a8a" stroke-width="1.8"/>
<circle cx="1275.9" cy="629.2" r="4.0" fill="#fff" stroke="#8a8a8a" stroke-width="1.8"/>
<circle cx="1317.7" cy="582" r="4.0" fill="#fff" stroke="#409ea6" stroke-width="1.8"/>
<circle cx="1317.7" cy="593.2" r="4.0" fill="#fff" stroke="#409ea6" stroke-width="1.8"/>
<circle cx="1317.7" cy="609.7" r="4.0" fill="#fff" stroke="#409ea6" stroke-width="1.8"/>
<circle cx="1307.8" cy="623" r="4.0" fill="#fff" stroke="#409ea6" stroke-width="1.8"/>
<circle cx="1327.8" cy="622.5" r="4.0" fill="#fff" stroke="#409ea6" stroke-width="1.8"/>
<circle cx="1360.3" cy="587.3" r="4.0" fill="#fff" stroke="#bf9f2c" stroke-width="1.8"/>
<circle cx="1360.3" cy="610.5" r="4.0" fill="#fff" stroke="#bf9f2c" stroke-width="1.8"/>
<circle cx="1360.3" cy="623" r="4.0" fill="#fff" stroke="#bf9f2c" stroke-width="1.8"/>
<circle cx="1360.3" cy="633.2" r="4.0" fill="#fff" stroke="#bf9f2c" stroke-width="1.8"/>
<circle cx="1360.3" cy="643.3" r="4.0" fill="#fff" stroke="#bf9f2c" stroke-width="1.8"/>
<circle cx="1402.4" cy="545.2" r="4.0" fill="#fff" stroke="#111111" stroke-width="1.8"/>
<circle cx="1402.4" cy="593.2" r="4.0" fill="#fff" stroke="#111111" stroke-width="1.8"/>
<circle cx="1402.4" cy="630.5" r="4.0" fill="#fff" stroke="#111111" stroke-width="1.8"/>
<circle cx="1392.3" cy="641.2" r="4.0" fill="#fff" stroke="#111111" stroke-width="1.8"/>
<circle cx="1412.6" cy="642.5" r="4.0" fill="#fff" stroke="#111111" stroke-width="1.8"/>
<circle cx="1402.4" cy="664.6" r="4.0" fill="#fff" stroke="#111111" stroke-width="1.8"/>
<line x1="1271.3" y1="491.9" x2="1359.3" y2="491.9" stroke="#6a6a6a" stroke-width="1.5"/>
<text x="1274.5" y="486.4" font-size="19.5" textLength="81.3" lengthAdjust="spacingAndGlyphs"><tspan font-style="italic">p</tspan> = 0.2633</text>
<line x1="1317.2" y1="514.6" x2="1403.8" y2="514.6" stroke="#6a6a6a" stroke-width="1.5"/>
<text x="1321.2" y="509.1" font-size="19.5" textLength="80" lengthAdjust="spacingAndGlyphs"><tspan font-style="italic">p</tspan> = 0.5364</text>
<line x1="1271.3" y1="535.1" x2="1315" y2="535.1" stroke="#6a6a6a" stroke-width="1.5"/>
<text x="1251.9" y="532" font-size="19.5" textLength="81.3" lengthAdjust="spacingAndGlyphs"><tspan font-style="italic">p</tspan> = 0.8740</text>
<line x1="1361.1" y1="535.1" x2="1403.8" y2="535.1" stroke="#6a6a6a" stroke-width="1.5"/>
<text x="1346" y="532" font-size="19.5" textLength="81" lengthAdjust="spacingAndGlyphs"><tspan font-style="italic">p</tspan> = 0.9983</text>
<line x1="1515.3" y1="458.8" x2="1515.3" y2="735.55" stroke="#333" stroke-width="1.5"/>
<line x1="1504.3" y1="458.8" x2="1515.3" y2="458.8" stroke="#333" stroke-width="1.5"/>
<text x="1498.8" y="469.2" font-size="26" text-anchor="end">20</text>
<line x1="1504.3" y1="527.8" x2="1515.3" y2="527.8" stroke="#333" stroke-width="1.5"/>
<text x="1498.8" y="538.2" font-size="26" text-anchor="end">15</text>
<line x1="1504.3" y1="596.8" x2="1515.3" y2="596.8" stroke="#333" stroke-width="1.5"/>
<text x="1498.8" y="607.2" font-size="26" text-anchor="end">10</text>
<line x1="1504.3" y1="665.8" x2="1515.3" y2="665.8" stroke="#333" stroke-width="1.5"/>
<text x="1498.8" y="676.2" font-size="26" text-anchor="end">5</text>
<line x1="1504.3" y1="734.8" x2="1515.3" y2="734.8" stroke="#333" stroke-width="1.5"/>
<text x="1498.8" y="745.2" font-size="26" text-anchor="end">0</text>
<line x1="1515.3" y1="734.8" x2="1699.7" y2="734.8" stroke="#333" stroke-width="1.5"/>
<line x1="1543.4" y1="734.8" x2="1543.4" y2="746.3" stroke="#333" stroke-width="1.5"/>
<line x1="1586.1" y1="734.8" x2="1586.1" y2="746.3" stroke="#333" stroke-width="1.5"/>
<line x1="1628.2" y1="734.8" x2="1628.2" y2="746.3" stroke="#333" stroke-width="1.5"/>
<line x1="1670.9" y1="734.8" x2="1670.9" y2="746.3" stroke="#333" stroke-width="1.5"/>
<text x="1522.2" y="799.2" font-size="29" text-anchor="middle" transform="rotate(-45 1522.2 799.2)">Control</text>
<text x="1565.7" y="802.9" font-size="29" text-anchor="middle" transform="rotate(-45 1565.7 802.9)">BAY-876</text>
<text x="1609.4" y="797.8" font-size="29" text-anchor="middle" transform="rotate(-45 1609.4 797.8)">αPD-L1</text>
<text x="1649.4" y="802.1" font-size="29" text-anchor="middle" transform="rotate(-45 1649.4 802.1)">Combine</text>
<text x="1474.7" y="670.4" font-size="29" textLength="162.8" lengthAdjust="spacingAndGlyphs" transform="rotate(-90 1474.7 670.4)" xml:space="preserve">DCs (x10<tspan dy="-11.0" font-size="18.0">5</tspan><tspan dy="11.0">/g)</tspan></text>
<line x1="1543.4" y1="687.9" x2="1543.4" y2="700.9" stroke="#111111" stroke-width="1.8"/>
<line x1="1536.9" y1="687.9" x2="1549.9" y2="687.9" stroke="#111111" stroke-width="1.8"/>
<line x1="1536.9" y1="700.9" x2="1549.9" y2="700.9" stroke="#111111" stroke-width="1.8"/>
<line x1="1529.4" y1="694.6" x2="1557.4" y2="694.6" stroke="#111111" stroke-width="1.8"/>
<line x1="1586.1" y1="646.2" x2="1586.1" y2="672.1" stroke="#111111" stroke-width="1.8"/>
<line x1="1579.6" y1="646.2" x2="1592.6" y2="646.2" stroke="#111111" stroke-width="1.8"/>
<line x1="1579.6" y1="672.1" x2="1592.6" y2="672.1" stroke="#111111" stroke-width="1.8"/>
<line x1="1572.1" y1="659.5" x2="1600.1" y2="659.5" stroke="#111111" stroke-width="1.8"/>
<line x1="1628.2" y1="692.5" x2="1628.2" y2="698.5" stroke="#111111" stroke-width="1.8"/>
<line x1="1621.7" y1="692.5" x2="1634.7" y2="692.5" stroke="#111111" stroke-width="1.8"/>
<line x1="1621.7" y1="698.5" x2="1634.7" y2="698.5" stroke="#111111" stroke-width="1.8"/>
<line x1="1614.2" y1="695.9" x2="1642.2" y2="695.9" stroke="#111111" stroke-width="1.8"/>
<line x1="1670.9" y1="647" x2="1670.9" y2="678.3" stroke="#111111" stroke-width="1.8"/>
<line x1="1664.4" y1="647" x2="1677.4" y2="647" stroke="#111111" stroke-width="1.8"/>
<line x1="1664.4" y1="678.3" x2="1677.4" y2="678.3" stroke="#111111" stroke-width="1.8"/>
<line x1="1656.9" y1="662.8" x2="1684.9" y2="662.8" stroke="#111111" stroke-width="1.8"/>
<circle cx="1543.4" cy="669.6" r="4.0" fill="#fff" stroke="#8a8a8a" stroke-width="1.8"/>
<circle cx="1543.4" cy="690.9" r="4.0" fill="#fff" stroke="#8a8a8a" stroke-width="1.8"/>
<circle cx="1534.2" cy="699.7" r="4.0" fill="#fff" stroke="#8a8a8a" stroke-width="1.8"/>
<circle cx="1554.2" cy="702.2" r="4.0" fill="#fff" stroke="#8a8a8a" stroke-width="1.8"/>
<circle cx="1534.2" cy="709.7" r="4.0" fill="#fff" stroke="#8a8a8a" stroke-width="1.8"/>
<circle cx="1586.1" cy="615.1" r="4.0" fill="#fff" stroke="#409ea6" stroke-width="1.8"/>
<circle cx="1586.1" cy="650.2" r="4.0" fill="#fff" stroke="#409ea6" stroke-width="1.8"/>
<circle cx="1576.8" cy="668.3" r="4.0" fill="#fff" stroke="#409ea6" stroke-width="1.8"/>
<circle cx="1596.9" cy="672.8" r="4.0" fill="#fff" stroke="#409ea6" stroke-width="1.8"/>
<circle cx="1586.1" cy="688.9" r="4.0" fill="#fff" stroke="#409ea6" stroke-width="1.8"/>
<circle cx="1628.2" cy="687.1" r="4.0" fill="#fff" stroke="#bf9f2c" stroke-width="1.8"/>
<circle cx="1619.5" cy="692.1" r="4.0" fill="#fff" stroke="#bf9f2c" stroke-width="1.8"/>
<circle cx="1638.3" cy="692.1" r="4.0" fill="#fff" stroke="#bf9f2c" stroke-width="1.8"/>
<circle cx="1623.2" cy="703.9" r="4.0" fill="#fff" stroke="#bf9f2c" stroke-width="1.8"/>
<circle cx="1633.2" cy="703.9" r="4.0" fill="#fff" stroke="#bf9f2c" stroke-width="1.8"/>
<circle cx="1670.9" cy="585" r="4.0" fill="#fff" stroke="#111111" stroke-width="1.8"/>
<circle cx="1670.9" cy="662" r="4.0" fill="#fff" stroke="#111111" stroke-width="1.8"/>
<circle cx="1661.3" cy="677.1" r="4.0" fill="#fff" stroke="#111111" stroke-width="1.8"/>
<circle cx="1670.9" cy="681.3" r="4.0" fill="#fff" stroke="#111111" stroke-width="1.8"/>
<circle cx="1680.9" cy="684.6" r="4.0" fill="#fff" stroke="#111111" stroke-width="1.8"/>
<circle cx="1661.3" cy="687.9" r="4.0" fill="#fff" stroke="#111111" stroke-width="1.8"/>
<line x1="1539.2" y1="525.8" x2="1626.2" y2="525.8" stroke="#6a6a6a" stroke-width="1.5"/>
<text x="1540.4" y="520.3" font-size="19.5" textLength="80.3" lengthAdjust="spacingAndGlyphs"><tspan font-style="italic">p</tspan> = 0.8482</text>
<line x1="1584.3" y1="544.9" x2="1671.4" y2="544.9" stroke="#6a6a6a" stroke-width="1.5"/>
<text x="1586.8" y="539.4" font-size="19.5" textLength="80.2" lengthAdjust="spacingAndGlyphs"><tspan font-style="italic">p</tspan> = 0.8528</text>
<line x1="1539.2" y1="572.5" x2="1582.6" y2="572.5" stroke="#6a6a6a" stroke-width="1.5"/>
<text x="1519.1" y="569.4" font-size="19.5" textLength="81" lengthAdjust="spacingAndGlyphs"><tspan font-style="italic">p</tspan> = 0.0383</text>
<line x1="1628.2" y1="572.5" x2="1671.4" y2="572.5" stroke="#6a6a6a" stroke-width="1.5"/>
<text x="1610.7" y="569.4" font-size="19.5" textLength="80.7" lengthAdjust="spacingAndGlyphs"><tspan font-style="italic">p</tspan> = 0.1002</text>
<line x1="638.3" y1="911.5" x2="638.3" y2="1134.55" stroke="#333" stroke-width="1.5"/>
<line x1="632.5" y1="911.5" x2="638.3" y2="911.5" stroke="#333" stroke-width="1.5"/>
<text x="628.2" y="921.2" font-size="24" text-anchor="end">0.40</text>
<line x1="632.5" y1="967.08" x2="638.3" y2="967.08" stroke="#333" stroke-width="1.5"/>
<text x="628.2" y="976.78" font-size="24" text-anchor="end">0.30</text>
<line x1="632.5" y1="1022.65" x2="638.3" y2="1022.65" stroke="#333" stroke-width="1.5"/>
<text x="628.2" y="1032.35" font-size="24" text-anchor="end">0.20</text>
<line x1="632.5" y1="1078.22" x2="638.3" y2="1078.22" stroke="#333" stroke-width="1.5"/>
<text x="628.2" y="1087.92" font-size="24" text-anchor="end">0.10</text>
<line x1="632.5" y1="1133.8" x2="638.3" y2="1133.8" stroke="#333" stroke-width="1.5"/>
<text x="628.2" y="1143.5" font-size="24" text-anchor="end">0.00</text>
<line x1="663.2" y1="1159.7" x2="806.7" y2="1159.7" stroke="#333" stroke-width="1.5"/>
<line x1="685.1" y1="1159.7" x2="685.1" y2="1165.7" stroke="#333" stroke-width="1.5"/>
<line x1="717.7" y1="1159.7" x2="717.7" y2="1165.7" stroke="#333" stroke-width="1.5"/>
<line x1="750.3" y1="1159.7" x2="750.3" y2="1165.7" stroke="#333" stroke-width="1.5"/>
<line x1="782.9" y1="1159.7" x2="782.9" y2="1165.7" stroke="#333" stroke-width="1.5"/>
<text x="695.8" y="1183.2" font-size="29" text-anchor="end" transform="rotate(-45 695.8 1183.2)">Control</text>
<text x="731.8" y="1181.5" font-size="29" text-anchor="end" transform="rotate(-45 731.8 1181.5)">BAY-876</text>
<text x="762.2" y="1181.8" font-size="29" text-anchor="end" transform="rotate(-45 762.2 1181.8)">αPD-L1</text>
<text x="799.7" y="1178.9" font-size="29" text-anchor="end" transform="rotate(-45 799.7 1178.9)">Combine</text>
<text x="571.2" y="1133.7" font-size="29" textLength="221.5" lengthAdjust="spacingAndGlyphs" transform="rotate(-90 571.2 1133.7)" xml:space="preserve">Tumor weight (g)</text>
<line x1="685.1" y1="995.3" x2="685.1" y2="1016.5" stroke="#111111" stroke-width="1.8"/>
<line x1="679.1" y1="995.3" x2="691.1" y2="995.3" stroke="#111111" stroke-width="1.8"/>
<line x1="679.1" y1="1016.5" x2="691.1" y2="1016.5" stroke="#111111" stroke-width="1.8"/>
<line x1="672.1" y1="1006.1" x2="698.1" y2="1006.1" stroke="#111111" stroke-width="1.8"/>
<line x1="717.7" y1="1042.6" x2="717.7" y2="1072.6" stroke="#111111" stroke-width="1.8"/>
<line x1="711.7" y1="1042.6" x2="723.7" y2="1042.6" stroke="#111111" stroke-width="1.8"/>
<line x1="711.7" y1="1072.6" x2="723.7" y2="1072.6" stroke="#111111" stroke-width="1.8"/>
<line x1="704.7" y1="1058.2" x2="730.7" y2="1058.2" stroke="#111111" stroke-width="1.8"/>
<line x1="750.3" y1="1059.5" x2="750.3" y2="1080.1" stroke="#111111" stroke-width="1.8"/>
<line x1="744.3" y1="1059.5" x2="756.3" y2="1059.5" stroke="#111111" stroke-width="1.8"/>
<line x1="744.3" y1="1080.1" x2="756.3" y2="1080.1" stroke="#111111" stroke-width="1.8"/>
<line x1="737.3" y1="1069.6" x2="763.3" y2="1069.6" stroke="#111111" stroke-width="1.8"/>
<line x1="782.9" y1="1089" x2="782.9" y2="1099" stroke="#111111" stroke-width="1.8"/>
<line x1="776.9" y1="1089" x2="788.9" y2="1089" stroke="#111111" stroke-width="1.8"/>
<line x1="776.9" y1="1099" x2="788.9" y2="1099" stroke="#111111" stroke-width="1.8"/>
<line x1="769.9" y1="1094.1" x2="795.9" y2="1094.1" stroke="#111111" stroke-width="1.8"/>
<circle cx="680.2" cy="971.5" r="4.0" fill="#fff" stroke="#8a8a8a" stroke-width="1.8"/>
<circle cx="690.6" cy="967" r="4.0" fill="#fff" stroke="#8a8a8a" stroke-width="1.8"/>
<circle cx="686.1" cy="986.5" r="4.0" fill="#fff" stroke="#8a8a8a" stroke-width="1.8"/>
<circle cx="673.7" cy="1010.6" r="4.0" fill="#fff" stroke="#8a8a8a" stroke-width="1.8"/>
<circle cx="681.8" cy="1003.5" r="4.0" fill="#fff" stroke="#8a8a8a" stroke-width="1.8"/>
<circle cx="680.2" cy="1020.4" r="4.0" fill="#fff" stroke="#8a8a8a" stroke-width="1.8"/>
<circle cx="691.6" cy="1031.2" r="4.0" fill="#fff" stroke="#8a8a8a" stroke-width="1.8"/>
<circle cx="686.1" cy="1054.7" r="4.0" fill="#fff" stroke="#8a8a8a" stroke-width="1.8"/>
<circle cx="717.7" cy="994.3" r="4.0" fill="#fff" stroke="#409ea6" stroke-width="1.8"/>
<circle cx="717.7" cy="1014.9" r="4.0" fill="#fff" stroke="#409ea6" stroke-width="1.8"/>
<circle cx="717.7" cy="1031.2" r="4.0" fill="#fff" stroke="#409ea6" stroke-width="1.8"/>
<circle cx="717.7" cy="1050.7" r="4.0" fill="#fff" stroke="#409ea6" stroke-width="1.8"/>
<circle cx="712.8" cy="1071.3" r="4.0" fill="#fff" stroke="#409ea6" stroke-width="1.8"/>
<circle cx="724.2" cy="1081.7" r="4.0" fill="#fff" stroke="#409ea6" stroke-width="1.8"/>
<circle cx="724.2" cy="1105.2" r="4.0" fill="#fff" stroke="#409ea6" stroke-width="1.8"/>
<circle cx="712.8" cy="1114.3" r="4.0" fill="#fff" stroke="#409ea6" stroke-width="1.8"/>
<circle cx="745.4" cy="1042.6" r="4.0" fill="#fff" stroke="#bf9f2c" stroke-width="1.8"/>
<circle cx="755.8" cy="1045.2" r="4.0" fill="#fff" stroke="#bf9f2c" stroke-width="1.8"/>
<circle cx="751.9" cy="1068" r="4.0" fill="#fff" stroke="#bf9f2c" stroke-width="1.8"/>
<circle cx="745.4" cy="1072.6" r="4.0" fill="#fff" stroke="#bf9f2c" stroke-width="1.8"/>
<circle cx="755.8" cy="1083.3" r="4.0" fill="#fff" stroke="#bf9f2c" stroke-width="1.8"/>
<circle cx="750.3" cy="1106.2" r="4.0" fill="#fff" stroke="#bf9f2c" stroke-width="1.8"/>
<circle cx="779.6" cy="1074.5" r="4.0" fill="#fff" stroke="#111111" stroke-width="1.8"/>
<circle cx="788.5" cy="1076.8" r="4.0" fill="#fff" stroke="#111111" stroke-width="1.8"/>
<circle cx="782.9" cy="1090.8" r="4.0" fill="#fff" stroke="#111111" stroke-width="1.8"/>
<circle cx="788.5" cy="1090.8" r="4.0" fill="#fff" stroke="#111111" stroke-width="1.8"/>
<circle cx="782.9" cy="1099.6" r="4.0" fill="#fff" stroke="#111111" stroke-width="1.8"/>
<circle cx="777.4" cy="1122.5" r="4.0" fill="#fff" stroke="#111111" stroke-width="1.8"/>
<circle cx="788.5" cy="1119.2" r="4.0" fill="#fff" stroke="#111111" stroke-width="1.8"/>
<path d="M684.5 936 L684.5 924 L751.3 924" fill="none" stroke="#6a6a6a" stroke-width="1.5"/>
<text x="680.7" y="920.6" font-size="19.5" textLength="77.9" lengthAdjust="spacingAndGlyphs"><tspan font-style="italic">p</tspan> = 0.0011</text>
<path d="M684.5 958.6 L684.5 946.4 L717 946.4" fill="none" stroke="#6a6a6a" stroke-width="1.5"/>
<text x="689.3" y="942" font-size="19.5" textLength="81.3" lengthAdjust="spacingAndGlyphs"><tspan font-style="italic">p</tspan> = 0.0136</text>
<path d="M718.6 982.2 L782.8 982.2 L782.8 1009.9" fill="none" stroke="#6a6a6a" stroke-width="1.5"/>
<text x="710" y="978.2" font-size="19.5" textLength="79.9" lengthAdjust="spacingAndGlyphs"><tspan font-style="italic">p</tspan> = 0.0416</text>
<path d="M750.6 1031 L782.8 1031 L782.8 1055.9" fill="none" stroke="#6a6a6a" stroke-width="1.5"/>
<text x="735.7" y="1027.2" font-size="19.5" textLength="79.5" lengthAdjust="spacingAndGlyphs"><tspan font-style="italic">p</tspan> = 0.0457</text>
<line x1="1495" y1="920.9" x2="1495" y2="1140.55" stroke="#333" stroke-width="1.5"/>
<line x1="1485.5" y1="920.9" x2="1495" y2="920.9" stroke="#333" stroke-width="1.5"/>
<text x="1479" y="931.4" font-size="25" text-anchor="end">2.0</text>
<line x1="1485.5" y1="975.62" x2="1495" y2="975.62" stroke="#333" stroke-width="1.5"/>
<text x="1479" y="986.12" font-size="25" text-anchor="end">1.5</text>
<line x1="1485.5" y1="1030.35" x2="1495" y2="1030.35" stroke="#333" stroke-width="1.5"/>
<text x="1479" y="1040.85" font-size="25" text-anchor="end">1.0</text>
<line x1="1485.5" y1="1085.08" x2="1495" y2="1085.08" stroke="#333" stroke-width="1.5"/>
<text x="1479" y="1095.58" font-size="25" text-anchor="end">0.5</text>
<line x1="1485.5" y1="1139.8" x2="1495" y2="1139.8" stroke="#333" stroke-width="1.5"/>
<text x="1479" y="1150.3" font-size="25" text-anchor="end">0.0</text>
<line x1="1518.3" y1="1164.3" x2="1657.4" y2="1164.3" stroke="#333" stroke-width="1.5"/>
<line x1="1540" y1="1164.3" x2="1540" y2="1173.8" stroke="#333" stroke-width="1.5"/>
<line x1="1571.6" y1="1164.3" x2="1571.6" y2="1173.8" stroke="#333" stroke-width="1.5"/>
<line x1="1603.2" y1="1164.3" x2="1603.2" y2="1173.8" stroke="#333" stroke-width="1.5"/>
<line x1="1635.2" y1="1164.3" x2="1635.2" y2="1173.8" stroke="#333" stroke-width="1.5"/>
<text x="1552.5" y="1193.7" font-size="29" text-anchor="end" transform="rotate(-45 1552.5 1193.7)">Control</text>
<text x="1587.6" y="1191.1" font-size="29" text-anchor="end" transform="rotate(-45 1587.6 1191.1)">BAY-876</text>
<text x="1618.7" y="1191.5" font-size="29" text-anchor="end" transform="rotate(-45 1618.7 1191.5)">αPD-L1</text>
<text x="1654.7" y="1189.2" font-size="29" text-anchor="end" transform="rotate(-45 1654.7 1189.2)">Combine</text>
<text x="1434.4" y="1148.1" font-size="29" textLength="221.3" lengthAdjust="spacingAndGlyphs" transform="rotate(-90 1434.4 1148.1)" xml:space="preserve">Tumor weight (g)</text>
<line x1="1540" y1="1000.8" x2="1540" y2="1028.8" stroke="#111111" stroke-width="1.8"/>
<line x1="1534" y1="1000.8" x2="1546" y2="1000.8" stroke="#111111" stroke-width="1.8"/>
<line x1="1534" y1="1028.8" x2="1546" y2="1028.8" stroke="#111111" stroke-width="1.8"/>
<line x1="1527" y1="1014.8" x2="1553" y2="1014.8" stroke="#111111" stroke-width="1.8"/>
<line x1="1571.6" y1="1084.8" x2="1571.6" y2="1100.5" stroke="#111111" stroke-width="1.8"/>
<line x1="1565.6" y1="1084.8" x2="1577.6" y2="1084.8" stroke="#111111" stroke-width="1.8"/>
<line x1="1565.6" y1="1100.5" x2="1577.6" y2="1100.5" stroke="#111111" stroke-width="1.8"/>
<line x1="1558.6" y1="1092" x2="1584.6" y2="1092" stroke="#111111" stroke-width="1.8"/>
<line x1="1603.2" y1="1091.3" x2="1603.2" y2="1109.3" stroke="#111111" stroke-width="1.8"/>
<line x1="1597.2" y1="1091.3" x2="1609.2" y2="1091.3" stroke="#111111" stroke-width="1.8"/>
<line x1="1597.2" y1="1109.3" x2="1609.2" y2="1109.3" stroke="#111111" stroke-width="1.8"/>
<line x1="1590.2" y1="1100.5" x2="1616.2" y2="1100.5" stroke="#111111" stroke-width="1.8"/>
<line x1="1635.2" y1="1120" x2="1635.2" y2="1126.5" stroke="#111111" stroke-width="1.8"/>
<line x1="1629.2" y1="1120" x2="1641.2" y2="1120" stroke="#111111" stroke-width="1.8"/>
<line x1="1629.2" y1="1126.5" x2="1641.2" y2="1126.5" stroke="#111111" stroke-width="1.8"/>
<line x1="1622.2" y1="1123.3" x2="1648.2" y2="1123.3" stroke="#111111" stroke-width="1.8"/>
<circle cx="1540.1" cy="974.7" r="4.0" fill="#fff" stroke="#8a8a8a" stroke-width="1.8"/>
<circle cx="1540.1" cy="992" r="4.0" fill="#fff" stroke="#8a8a8a" stroke-width="1.8"/>
<circle cx="1540.1" cy="1015.8" r="4.0" fill="#fff" stroke="#8a8a8a" stroke-width="1.8"/>
<circle cx="1540.1" cy="1038.6" r="4.0" fill="#fff" stroke="#8a8a8a" stroke-width="1.8"/>
<circle cx="1540.1" cy="1051.6" r="4.0" fill="#fff" stroke="#8a8a8a" stroke-width="1.8"/>
<circle cx="1565.5" cy="1074.4" r="4.0" fill="#fff" stroke="#409ea6" stroke-width="1.8"/>
<circle cx="1578.6" cy="1075.7" r="4.0" fill="#fff" stroke="#409ea6" stroke-width="1.8"/>
<circle cx="1572" cy="1097.2" r="4.0" fill="#fff" stroke="#409ea6" stroke-width="1.8"/>
<circle cx="1565.5" cy="1108.3" r="4.0" fill="#fff" stroke="#409ea6" stroke-width="1.8"/>
<circle cx="1578.6" cy="1104.4" r="4.0" fill="#fff" stroke="#409ea6" stroke-width="1.8"/>
<circle cx="1599.4" cy="1075" r="4.0" fill="#fff" stroke="#bf9f2c" stroke-width="1.8"/>
<circle cx="1607.9" cy="1077.7" r="4.0" fill="#fff" stroke="#bf9f2c" stroke-width="1.8"/>
<circle cx="1603.7" cy="1112.5" r="4.0" fill="#fff" stroke="#bf9f2c" stroke-width="1.8"/>
<circle cx="1597.1" cy="1116.8" r="4.0" fill="#fff" stroke="#bf9f2c" stroke-width="1.8"/>
<circle cx="1610.2" cy="1115.8" r="4.0" fill="#fff" stroke="#bf9f2c" stroke-width="1.8"/>
<circle cx="1635.3" cy="1114.2" r="4.0" fill="#fff" stroke="#111111" stroke-width="1.8"/>
<circle cx="1629.7" cy="1121.3" r="4.0" fill="#fff" stroke="#111111" stroke-width="1.8"/>
<circle cx="1641.1" cy="1121.3" r="4.0" fill="#fff" stroke="#111111" stroke-width="1.8"/>
<circle cx="1628.1" cy="1125.6" r="4.0" fill="#fff" stroke="#111111" stroke-width="1.8"/>
<circle cx="1642.7" cy="1125.6" r="4.0" fill="#fff" stroke="#111111" stroke-width="1.8"/>
<path d="M1541.7 953.8 L1572.7 953.8 L1572.7 1037.6" fill="none" stroke="#6a6a6a" stroke-width="1.5"/>
<text x="1514.7" y="948.6" font-size="19.5" textLength="80.8" lengthAdjust="spacingAndGlyphs"><tspan font-style="italic">p</tspan> = 0.0012</text>
<path d="M1573.3 1043.4 L1635.3 1043.4 L1635.3 1068.5" fill="none" stroke="#6a6a6a" stroke-width="1.5"/>
<text x="1577.6" y="1036" font-size="19.5" textLength="79.8" lengthAdjust="spacingAndGlyphs"><tspan font-style="italic">p</tspan> = 0.0032</text>
<path d="M1605.9 1070.2 L1635.3 1070.2 L1635.3 1083.2" fill="none" stroke="#6a6a6a" stroke-width="1.5"/>
<text x="1554.8" y="1065.3" font-size="19.5" textLength="79.8" lengthAdjust="spacingAndGlyphs"><tspan font-style="italic">p</tspan> = 0.0467</text>
<line x1="119.8" y1="916.6" x2="119.8" y2="1160.2" stroke="#333" stroke-width="1.5"/>
<line x1="109.8" y1="916.6" x2="119.8" y2="916.6" stroke="#333" stroke-width="1.5"/>
<text x="107.8" y="926" font-size="25" text-anchor="end">400</text>
<line x1="109.8" y1="977.5" x2="119.8" y2="977.5" stroke="#333" stroke-width="1.5"/>
<text x="107.8" y="986.9" font-size="25" text-anchor="end">300</text>
<line x1="109.8" y1="1038.4" x2="119.8" y2="1038.4" stroke="#333" stroke-width="1.5"/>
<text x="107.8" y="1047.8" font-size="25" text-anchor="end">200</text>
<line x1="109.8" y1="1099.3" x2="119.8" y2="1099.3" stroke="#333" stroke-width="1.5"/>
<text x="107.8" y="1108.7" font-size="25" text-anchor="end">100</text>
<line x1="109.8" y1="1160.2" x2="119.8" y2="1160.2" stroke="#333" stroke-width="1.5"/>
<text x="107.8" y="1169.6" font-size="25" text-anchor="end">0</text>
<line x1="109.8" y1="1160.2" x2="364.5" y2="1160.2" stroke="#333" stroke-width="1.5"/>
<line x1="119.8" y1="1160.2" x2="119.8" y2="1169.2" stroke="#333" stroke-width="1.5"/>
<text x="122.1" y="1192.5" font-size="24" text-anchor="middle">5</text>
<line x1="201.2" y1="1160.2" x2="201.2" y2="1169.2" stroke="#333" stroke-width="1.5"/>
<text x="198" y="1192.5" font-size="24" text-anchor="middle">10</text>
<line x1="282.6" y1="1160.2" x2="282.6" y2="1169.2" stroke="#333" stroke-width="1.5"/>
<text x="281.2" y="1192.5" font-size="24" text-anchor="middle">15</text>
<line x1="364" y1="1160.2" x2="364" y2="1169.2" stroke="#333" stroke-width="1.5"/>
<text x="363.4" y="1192.5" font-size="24" text-anchor="middle">20</text>
<text x="253.5" y="1216.2" font-size="29.3" text-anchor="middle">Tumor implantation (days)</text>
<text x="56.4" y="1188.1" font-size="29" textLength="273.5" lengthAdjust="spacingAndGlyphs" transform="rotate(-90 56.4 1188.1)">Tumor volume (mm<tspan dy="-11.0" font-size="18.0">3</tspan><tspan dy="11.0">)</tspan></text>
<text x="220" y="894.6" font-size="29" text-anchor="middle">MC38</text>
<line x1="266.32" y1="1110" x2="266.32" y2="1103.6" stroke="#111111" stroke-width="1.6"/>
<line x1="261.82" y1="1103.6" x2="270.82" y2="1103.6" stroke="#111111" stroke-width="1.6"/>
<line x1="315.16" y1="1103.6" x2="315.16" y2="1093.5" stroke="#111111" stroke-width="1.6"/>
<line x1="310.66" y1="1093.5" x2="319.66" y2="1093.5" stroke="#111111" stroke-width="1.6"/>
<path d="M119.8 1145.7 L168.64 1131.2 L217.48 1119.6 L266.32 1110 L315.16 1103.6" fill="none" stroke="#111111" stroke-width="1.8"/>
<line x1="217.48" y1="1108.8" x2="217.48" y2="1103" stroke="#bf9f2c" stroke-width="1.6"/>
<line x1="212.98" y1="1103" x2="221.98" y2="1103" stroke="#bf9f2c" stroke-width="1.6"/>
<line x1="266.32" y1="1086.2" x2="266.32" y2="1077.5" stroke="#bf9f2c" stroke-width="1.6"/>
<line x1="261.82" y1="1077.5" x2="270.82" y2="1077.5" stroke="#bf9f2c" stroke-width="1.6"/>
<line x1="315.16" y1="1064.5" x2="315.16" y2="1047" stroke="#bf9f2c" stroke-width="1.6"/>
<line x1="310.66" y1="1047" x2="319.66" y2="1047" stroke="#bf9f2c" stroke-width="1.6"/>
<path d="M119.8 1145.7 L168.64 1125.4 L217.48 1108.8 L266.32 1086.2 L315.16 1064.5" fill="none" stroke="#bf9f2c" stroke-width="1.8"/>
<line x1="266.32" y1="1090.6" x2="266.32" y2="1080" stroke="#409ea6" stroke-width="1.6"/>
<line x1="261.82" y1="1080" x2="270.82" y2="1080" stroke="#409ea6" stroke-width="1.6"/>
<line x1="315.16" y1="1052" x2="315.16" y2="1034" stroke="#409ea6" stroke-width="1.6"/>
<line x1="310.66" y1="1034" x2="319.66" y2="1034" stroke="#409ea6" stroke-width="1.6"/>
<path d="M119.8 1145.7 L168.64 1131.2 L217.48 1113.8 L266.32 1090.6 L315.16 1052" fill="none" stroke="#409ea6" stroke-width="1.8"/>
<line x1="217.48" y1="1082.7" x2="217.48" y2="1073.2" stroke="#8a8a8a" stroke-width="1.6"/>
<line x1="212.98" y1="1073.2" x2="221.98" y2="1073.2" stroke="#8a8a8a" stroke-width="1.6"/>
<line x1="266.32" y1="1045.6" x2="266.32" y2="1036.3" stroke="#8a8a8a" stroke-width="1.6"/>
<line x1="261.82" y1="1036.3" x2="270.82" y2="1036.3" stroke="#8a8a8a" stroke-width="1.6"/>
<line x1="315.16" y1="994.3" x2="315.16" y2="981.8" stroke="#8a8a8a" stroke-width="1.6"/>
<line x1="310.66" y1="981.8" x2="319.66" y2="981.8" stroke="#8a8a8a" stroke-width="1.6"/>
<path d="M119.8 1145.7 L168.64 1122.5 L217.48 1082.7 L266.32 1045.6 L315.16 994.3" fill="none" stroke="#8a8a8a" stroke-width="1.8"/>
<circle cx="119.8" cy="1145.7" r="4.2" fill="#fff" stroke="#111111" stroke-width="1.8"/>
<circle cx="168.64" cy="1131.2" r="4.2" fill="#fff" stroke="#111111" stroke-width="1.8"/>
<circle cx="217.48" cy="1119.6" r="4.2" fill="#fff" stroke="#111111" stroke-width="1.8"/>
<circle cx="266.32" cy="1110" r="4.2" fill="#fff" stroke="#111111" stroke-width="1.8"/>
<circle cx="315.16" cy="1103.6" r="4.2" fill="#fff" stroke="#111111" stroke-width="1.8"/>
<circle cx="119.8" cy="1145.7" r="4.2" fill="#fff" stroke="#bf9f2c" stroke-width="1.8"/>
<circle cx="168.64" cy="1125.4" r="4.2" fill="#fff" stroke="#bf9f2c" stroke-width="1.8"/>
<circle cx="217.48" cy="1108.8" r="4.2" fill="#fff" stroke="#bf9f2c" stroke-width="1.8"/>
<circle cx="266.32" cy="1086.2" r="4.2" fill="#fff" stroke="#bf9f2c" stroke-width="1.8"/>
<circle cx="315.16" cy="1064.5" r="4.2" fill="#fff" stroke="#bf9f2c" stroke-width="1.8"/>
<circle cx="119.8" cy="1145.7" r="4.2" fill="#fff" stroke="#409ea6" stroke-width="1.8"/>
<circle cx="168.64" cy="1131.2" r="4.2" fill="#fff" stroke="#409ea6" stroke-width="1.8"/>
<circle cx="217.48" cy="1113.8" r="4.2" fill="#fff" stroke="#409ea6" stroke-width="1.8"/>
<circle cx="266.32" cy="1090.6" r="4.2" fill="#fff" stroke="#409ea6" stroke-width="1.8"/>
<circle cx="315.16" cy="1052" r="4.2" fill="#fff" stroke="#409ea6" stroke-width="1.8"/>
<circle cx="119.8" cy="1145.7" r="4.2" fill="#fff" stroke="#8a8a8a" stroke-width="1.8"/>
<circle cx="168.64" cy="1122.5" r="4.2" fill="#fff" stroke="#8a8a8a" stroke-width="1.8"/>
<circle cx="217.48" cy="1082.7" r="4.2" fill="#fff" stroke="#8a8a8a" stroke-width="1.8"/>
<circle cx="266.32" cy="1045.6" r="4.2" fill="#fff" stroke="#8a8a8a" stroke-width="1.8"/>
<circle cx="315.16" cy="994.3" r="4.2" fill="#fff" stroke="#8a8a8a" stroke-width="1.8"/>
<line x1="134.5" y1="944.1" x2="158.9" y2="944.1" stroke="#8a8a8a" stroke-width="1.8"/>
<circle cx="147" cy="944.1" r="4.0" fill="#fff" stroke="#8a8a8a" stroke-width="1.8"/>
<text x="167.5" y="949.9" font-size="25" text-anchor="start">Control</text>
<line x1="134.5" y1="964.4" x2="158.9" y2="964.4" stroke="#409ea6" stroke-width="1.8"/>
<circle cx="147" cy="964.4" r="4.0" fill="#fff" stroke="#409ea6" stroke-width="1.8"/>
<text x="167.5" y="970.2" font-size="25" text-anchor="start">BAY-876</text>
<line x1="134.5" y1="986.2" x2="158.9" y2="986.2" stroke="#bf9f2c" stroke-width="1.8"/>
<circle cx="147" cy="986.2" r="4.0" fill="#fff" stroke="#bf9f2c" stroke-width="1.8"/>
<text x="167.5" y="992" font-size="25" text-anchor="start">αPD-L1</text>
<line x1="134.5" y1="1007.9" x2="158.9" y2="1007.9" stroke="#111111" stroke-width="1.8"/>
<circle cx="147" cy="1007.9" r="4.0" fill="#fff" stroke="#111111" stroke-width="1.8"/>
<text x="167.5" y="1013.7" font-size="25" text-anchor="start">Combine</text>
<text x="342.9" y="1000.3" font-size="23" textLength="161.9" lengthAdjust="spacingAndGlyphs">Comparison of</text>
<line x1="342.4" y1="1003.5" x2="504.9" y2="1003.5" stroke="#222" stroke-width="1.5"/>
<text x="350.4" y="1021" font-size="23" textLength="144" lengthAdjust="spacingAndGlyphs">tumor growth</text>
<line x1="342.4" y1="1024.5" x2="494.9" y2="1024.5" stroke="#222" stroke-width="1.5"/>
<line x1="342.9" y1="1039" x2="367.4" y2="1039" stroke="#8a8a8a" stroke-width="1.6"/>
<circle cx="355.4" cy="1039" r="3.4" fill="#fff" stroke="#8a8a8a" stroke-width="1.6"/>
<text x="368.4" y="1045.3" font-size="22" textLength="18.5" lengthAdjust="spacingAndGlyphs">vs</text>
<line x1="390.2" y1="1039" x2="414.7" y2="1039" stroke="#409ea6" stroke-width="1.6"/>
<circle cx="402.7" cy="1039" r="3.4" fill="#fff" stroke="#409ea6" stroke-width="1.6"/>
<text x="417.7" y="1047.2" font-size="22.5" textLength="114.3" lengthAdjust="spacingAndGlyphs"><tspan font-style="italic">p</tspan> = 0.0199</text>
<line x1="342.9" y1="1060.3" x2="367.4" y2="1060.3" stroke="#8a8a8a" stroke-width="1.6"/>
<circle cx="355.4" cy="1060.3" r="3.4" fill="#fff" stroke="#8a8a8a" stroke-width="1.6"/>
<text x="368.4" y="1066.6" font-size="22" textLength="18.5" lengthAdjust="spacingAndGlyphs">vs</text>
<line x1="390.2" y1="1060.3" x2="414.7" y2="1060.3" stroke="#bf9f2c" stroke-width="1.6"/>
<circle cx="402.7" cy="1060.3" r="3.4" fill="#fff" stroke="#bf9f2c" stroke-width="1.6"/>
<text x="417.7" y="1068.5" font-size="22.5" textLength="114.3" lengthAdjust="spacingAndGlyphs"><tspan font-style="italic">p</tspan> = 0.0055</text>
<line x1="342.9" y1="1080.7" x2="367.4" y2="1080.7" stroke="#409ea6" stroke-width="1.6"/>
<circle cx="355.4" cy="1080.7" r="3.4" fill="#fff" stroke="#409ea6" stroke-width="1.6"/>
<text x="368.4" y="1087" font-size="22" textLength="18.5" lengthAdjust="spacingAndGlyphs">vs</text>
<line x1="390.2" y1="1080.7" x2="414.7" y2="1080.7" stroke="#111111" stroke-width="1.6"/>
<circle cx="402.7" cy="1080.7" r="3.4" fill="#fff" stroke="#111111" stroke-width="1.6"/>
<text x="417.7" y="1088.9" font-size="22.5" textLength="114.3" lengthAdjust="spacingAndGlyphs"><tspan font-style="italic">p</tspan> = 0.0215</text>
<line x1="342.9" y1="1100.3" x2="367.4" y2="1100.3" stroke="#bf9f2c" stroke-width="1.6"/>
<circle cx="355.4" cy="1100.3" r="3.4" fill="#fff" stroke="#bf9f2c" stroke-width="1.6"/>
<text x="368.4" y="1106.6" font-size="22" textLength="18.5" lengthAdjust="spacingAndGlyphs">vs</text>
<line x1="390.2" y1="1100.3" x2="414.7" y2="1100.3" stroke="#111111" stroke-width="1.6"/>
<circle cx="402.7" cy="1100.3" r="3.4" fill="#fff" stroke="#111111" stroke-width="1.6"/>
<text x="417.7" y="1108.5" font-size="22.5" textLength="114.3" lengthAdjust="spacingAndGlyphs"><tspan font-style="italic">p</tspan> = 0.0511</text>
<line x1="963" y1="916.6" x2="963" y2="1159.4" stroke="#333" stroke-width="1.5"/>
<line x1="953" y1="916.6" x2="963" y2="916.6" stroke="#333" stroke-width="1.5"/>
<text x="951" y="929.6" font-size="25" text-anchor="end">1500</text>
<line x1="953" y1="965.16" x2="963" y2="965.16" stroke="#333" stroke-width="1.5"/>
<text x="951" y="978.16" font-size="25" text-anchor="end">1200</text>
<line x1="953" y1="1013.72" x2="963" y2="1013.72" stroke="#333" stroke-width="1.5"/>
<text x="951" y="1026.72" font-size="25" text-anchor="end">900</text>
<line x1="953" y1="1062.28" x2="963" y2="1062.28" stroke="#333" stroke-width="1.5"/>
<text x="951" y="1075.28" font-size="25" text-anchor="end">600</text>
<line x1="953" y1="1110.84" x2="963" y2="1110.84" stroke="#333" stroke-width="1.5"/>
<text x="951" y="1123.84" font-size="25" text-anchor="end">300</text>
<line x1="953" y1="1159.4" x2="963" y2="1159.4" stroke="#333" stroke-width="1.5"/>
<text x="951" y="1172.4" font-size="25" text-anchor="end">0</text>
<line x1="953" y1="1159.4" x2="1212.8" y2="1159.4" stroke="#333" stroke-width="1.5"/>
<line x1="963" y1="1159.4" x2="963" y2="1168.4" stroke="#333" stroke-width="1.5"/>
<text x="965.7" y="1192.5" font-size="24" text-anchor="middle">5</text>
<line x1="1046.1" y1="1159.4" x2="1046.1" y2="1168.4" stroke="#333" stroke-width="1.5"/>
<text x="1048.7" y="1192.5" font-size="24" text-anchor="middle">10</text>
<line x1="1129.2" y1="1159.4" x2="1129.2" y2="1168.4" stroke="#333" stroke-width="1.5"/>
<text x="1131.1" y="1192.5" font-size="24" text-anchor="middle">15</text>
<line x1="1212.3" y1="1159.4" x2="1212.3" y2="1168.4" stroke="#333" stroke-width="1.5"/>
<text x="1208" y="1192.5" font-size="24" text-anchor="middle">20</text>
<text x="1089" y="1222.5" font-size="29.3" text-anchor="middle">Tumor implantation (days)</text>
<text x="891.3" y="1172.1" font-size="29" textLength="270.1" lengthAdjust="spacingAndGlyphs" transform="rotate(-90 891.3 1172.1)">Tumor volume (mm<tspan dy="-11.0" font-size="18.0">3</tspan><tspan dy="11.0">)</tspan></text>
<text x="1084" y="894.7" font-size="29" text-anchor="middle">B16-F10</text>
<path d="M963 1157.3 L996.24 1156.4 L1046.1 1154.9 L1095.96 1144.5 L1145.82 1139.4 L1195.68 1133.5" fill="none" stroke="#111111" stroke-width="1.8"/>
<line x1="1195.68" y1="1102.8" x2="1195.68" y2="1099.5" stroke="#409ea6" stroke-width="1.6"/>
<line x1="1191.18" y1="1099.5" x2="1200.18" y2="1099.5" stroke="#409ea6" stroke-width="1.6"/>
<path d="M963 1156.4 L996.24 1154.8 L1046.1 1149 L1095.96 1126.6 L1145.82 1113.8 L1195.68 1102.8" fill="none" stroke="#409ea6" stroke-width="1.8"/>
<line x1="1145.82" y1="1121.5" x2="1145.82" y2="1115.5" stroke="#bf9f2c" stroke-width="1.6"/>
<line x1="1141.32" y1="1115.5" x2="1150.32" y2="1115.5" stroke="#bf9f2c" stroke-width="1.6"/>
<line x1="1195.68" y1="1105.8" x2="1195.68" y2="1100" stroke="#bf9f2c" stroke-width="1.6"/>
<line x1="1191.18" y1="1100" x2="1200.18" y2="1100" stroke="#bf9f2c" stroke-width="1.6"/>
<path d="M963 1156.4 L996.24 1155.4 L1046.1 1151.9 L1095.96 1129.6 L1145.82 1121.5 L1195.68 1105.8" fill="none" stroke="#bf9f2c" stroke-width="1.8"/>
<line x1="1095.96" y1="1111.7" x2="1095.96" y2="1107.8" stroke="#8a8a8a" stroke-width="1.6"/>
<line x1="1091.46" y1="1107.8" x2="1100.46" y2="1107.8" stroke="#8a8a8a" stroke-width="1.6"/>
<line x1="1195.68" y1="1020.3" x2="1195.68" y2="1006" stroke="#8a8a8a" stroke-width="1.6"/>
<line x1="1191.18" y1="1006" x2="1200.18" y2="1006" stroke="#8a8a8a" stroke-width="1.6"/>
<path d="M963 1156.4 L996.24 1154.3 L1046.1 1146.6 L1095.96 1111.7 L1145.82 1077.5 L1195.68 1020.3" fill="none" stroke="#8a8a8a" stroke-width="1.8"/>
<circle cx="996.24" cy="1156.4" r="4.2" fill="#fff" stroke="#111111" stroke-width="1.8"/>
<circle cx="1046.1" cy="1154.9" r="4.2" fill="#fff" stroke="#111111" stroke-width="1.8"/>
<circle cx="1095.96" cy="1144.5" r="4.2" fill="#fff" stroke="#111111" stroke-width="1.8"/>
<circle cx="1145.82" cy="1139.4" r="4.2" fill="#fff" stroke="#111111" stroke-width="1.8"/>
<circle cx="1195.68" cy="1133.5" r="4.2" fill="#fff" stroke="#111111" stroke-width="1.8"/>
<circle cx="996.24" cy="1154.8" r="4.2" fill="#fff" stroke="#409ea6" stroke-width="1.8"/>
<circle cx="1046.1" cy="1149" r="4.2" fill="#fff" stroke="#409ea6" stroke-width="1.8"/>
<circle cx="1095.96" cy="1126.6" r="4.2" fill="#fff" stroke="#409ea6" stroke-width="1.8"/>
<circle cx="1145.82" cy="1113.8" r="4.2" fill="#fff" stroke="#409ea6" stroke-width="1.8"/>
<circle cx="1195.68" cy="1102.8" r="4.2" fill="#fff" stroke="#409ea6" stroke-width="1.8"/>
<circle cx="996.24" cy="1155.4" r="4.2" fill="#fff" stroke="#bf9f2c" stroke-width="1.8"/>
<circle cx="1046.1" cy="1151.9" r="4.2" fill="#fff" stroke="#bf9f2c" stroke-width="1.8"/>
<circle cx="1095.96" cy="1129.6" r="4.2" fill="#fff" stroke="#bf9f2c" stroke-width="1.8"/>
<circle cx="1145.82" cy="1121.5" r="4.2" fill="#fff" stroke="#bf9f2c" stroke-width="1.8"/>
<circle cx="1195.68" cy="1105.8" r="4.2" fill="#fff" stroke="#bf9f2c" stroke-width="1.8"/>
<circle cx="996.24" cy="1154.3" r="4.2" fill="#fff" stroke="#8a8a8a" stroke-width="1.8"/>
<circle cx="1046.1" cy="1146.6" r="4.2" fill="#fff" stroke="#8a8a8a" stroke-width="1.8"/>
<circle cx="1095.96" cy="1111.7" r="4.2" fill="#fff" stroke="#8a8a8a" stroke-width="1.8"/>
<circle cx="1145.82" cy="1077.5" r="4.2" fill="#fff" stroke="#8a8a8a" stroke-width="1.8"/>
<circle cx="1195.68" cy="1020.3" r="4.2" fill="#fff" stroke="#8a8a8a" stroke-width="1.8"/>
<line x1="974.6" y1="946.4" x2="998.5" y2="946.4" stroke="#8a8a8a" stroke-width="1.8"/>
<circle cx="986" cy="946.4" r="4.0" fill="#fff" stroke="#8a8a8a" stroke-width="1.8"/>
<text x="1008" y="952.2" font-size="25" text-anchor="start">Control</text>
<line x1="974.6" y1="966.6" x2="998.5" y2="966.6" stroke="#409ea6" stroke-width="1.8"/>
<circle cx="986" cy="966.6" r="4.0" fill="#fff" stroke="#409ea6" stroke-width="1.8"/>
<text x="1008" y="972.4" font-size="25" text-anchor="start">BAY-876</text>
<line x1="974.6" y1="988.7" x2="998.5" y2="988.7" stroke="#bf9f2c" stroke-width="1.8"/>
<circle cx="986" cy="988.7" r="4.0" fill="#fff" stroke="#bf9f2c" stroke-width="1.8"/>
<text x="1008" y="994.5" font-size="25" text-anchor="start">αPD-L1</text>
<line x1="974.6" y1="1008.9" x2="998.5" y2="1008.9" stroke="#111111" stroke-width="1.8"/>
<circle cx="986" cy="1008.9" r="4.0" fill="#fff" stroke="#111111" stroke-width="1.8"/>
<text x="1008" y="1014.7" font-size="25" text-anchor="start">Combine</text>
<text x="1208.1" y="1002.9" font-size="23" textLength="161.9" lengthAdjust="spacingAndGlyphs">Comparison of</text>
<line x1="1207.6" y1="1005.1" x2="1376.6" y2="1005.1" stroke="#222" stroke-width="1.5"/>
<text x="1208.1" y="1023.2" font-size="23" textLength="143.8" lengthAdjust="spacingAndGlyphs">tumor growth</text>
<line x1="1207.6" y1="1026.1" x2="1352.6" y2="1026.1" stroke="#222" stroke-width="1.5"/>
<line x1="1208.1" y1="1046.1" x2="1232.6" y2="1046.1" stroke="#8a8a8a" stroke-width="1.6"/>
<circle cx="1220.6" cy="1046.1" r="3.4" fill="#fff" stroke="#8a8a8a" stroke-width="1.6"/>
<text x="1233.6" y="1052.4" font-size="22" textLength="19" lengthAdjust="spacingAndGlyphs">vs</text>
<line x1="1255.6" y1="1046.1" x2="1280.1" y2="1046.1" stroke="#409ea6" stroke-width="1.6"/>
<circle cx="1268.1" cy="1046.1" r="3.4" fill="#fff" stroke="#409ea6" stroke-width="1.6"/>
<text x="1283.1" y="1054.3" font-size="22.5" textLength="115" lengthAdjust="spacingAndGlyphs"><tspan font-style="italic">p</tspan> = 0.0007</text>
<line x1="1208.1" y1="1067.4" x2="1232.6" y2="1067.4" stroke="#8a8a8a" stroke-width="1.6"/>
<circle cx="1220.6" cy="1067.4" r="3.4" fill="#fff" stroke="#8a8a8a" stroke-width="1.6"/>
<text x="1233.6" y="1073.7" font-size="22" textLength="19" lengthAdjust="spacingAndGlyphs">vs</text>
<line x1="1255.6" y1="1067.4" x2="1280.1" y2="1067.4" stroke="#bf9f2c" stroke-width="1.6"/>
<circle cx="1268.1" cy="1067.4" r="3.4" fill="#fff" stroke="#bf9f2c" stroke-width="1.6"/>
<text x="1283.1" y="1075.6" font-size="22.5" textLength="115" lengthAdjust="spacingAndGlyphs"><tspan font-style="italic">p</tspan> = 0.0007</text>
<line x1="1208.1" y1="1087.7" x2="1232.6" y2="1087.7" stroke="#409ea6" stroke-width="1.6"/>
<circle cx="1220.6" cy="1087.7" r="3.4" fill="#fff" stroke="#409ea6" stroke-width="1.6"/>
<text x="1233.6" y="1094" font-size="22" textLength="19" lengthAdjust="spacingAndGlyphs">vs</text>
<line x1="1255.6" y1="1087.7" x2="1280.1" y2="1087.7" stroke="#111111" stroke-width="1.6"/>
<circle cx="1268.1" cy="1087.7" r="3.4" fill="#fff" stroke="#111111" stroke-width="1.6"/>
<text x="1283.1" y="1095.9" font-size="22.5" textLength="115" lengthAdjust="spacingAndGlyphs"><tspan font-style="italic">p</tspan> = 0.0015</text>
<line x1="1208.1" y1="1107.8" x2="1232.6" y2="1107.8" stroke="#bf9f2c" stroke-width="1.6"/>
<circle cx="1220.6" cy="1107.8" r="3.4" fill="#fff" stroke="#bf9f2c" stroke-width="1.6"/>
<text x="1233.6" y="1114.1" font-size="22" textLength="19" lengthAdjust="spacingAndGlyphs">vs</text>
<line x1="1255.6" y1="1107.8" x2="1280.1" y2="1107.8" stroke="#111111" stroke-width="1.6"/>
<circle cx="1268.1" cy="1107.8" r="3.4" fill="#fff" stroke="#111111" stroke-width="1.6"/>
<text x="1283.1" y="1116" font-size="22.5" textLength="115" lengthAdjust="spacingAndGlyphs"><tspan font-style="italic">p</tspan> = 0.0019</text>
<text x="719" y="894.6" font-size="29" text-anchor="middle">MC38</text>
<text x="1591.3" y="894.7" font-size="29" text-anchor="middle">B16-F10</text>
</svg>
</body></html>
